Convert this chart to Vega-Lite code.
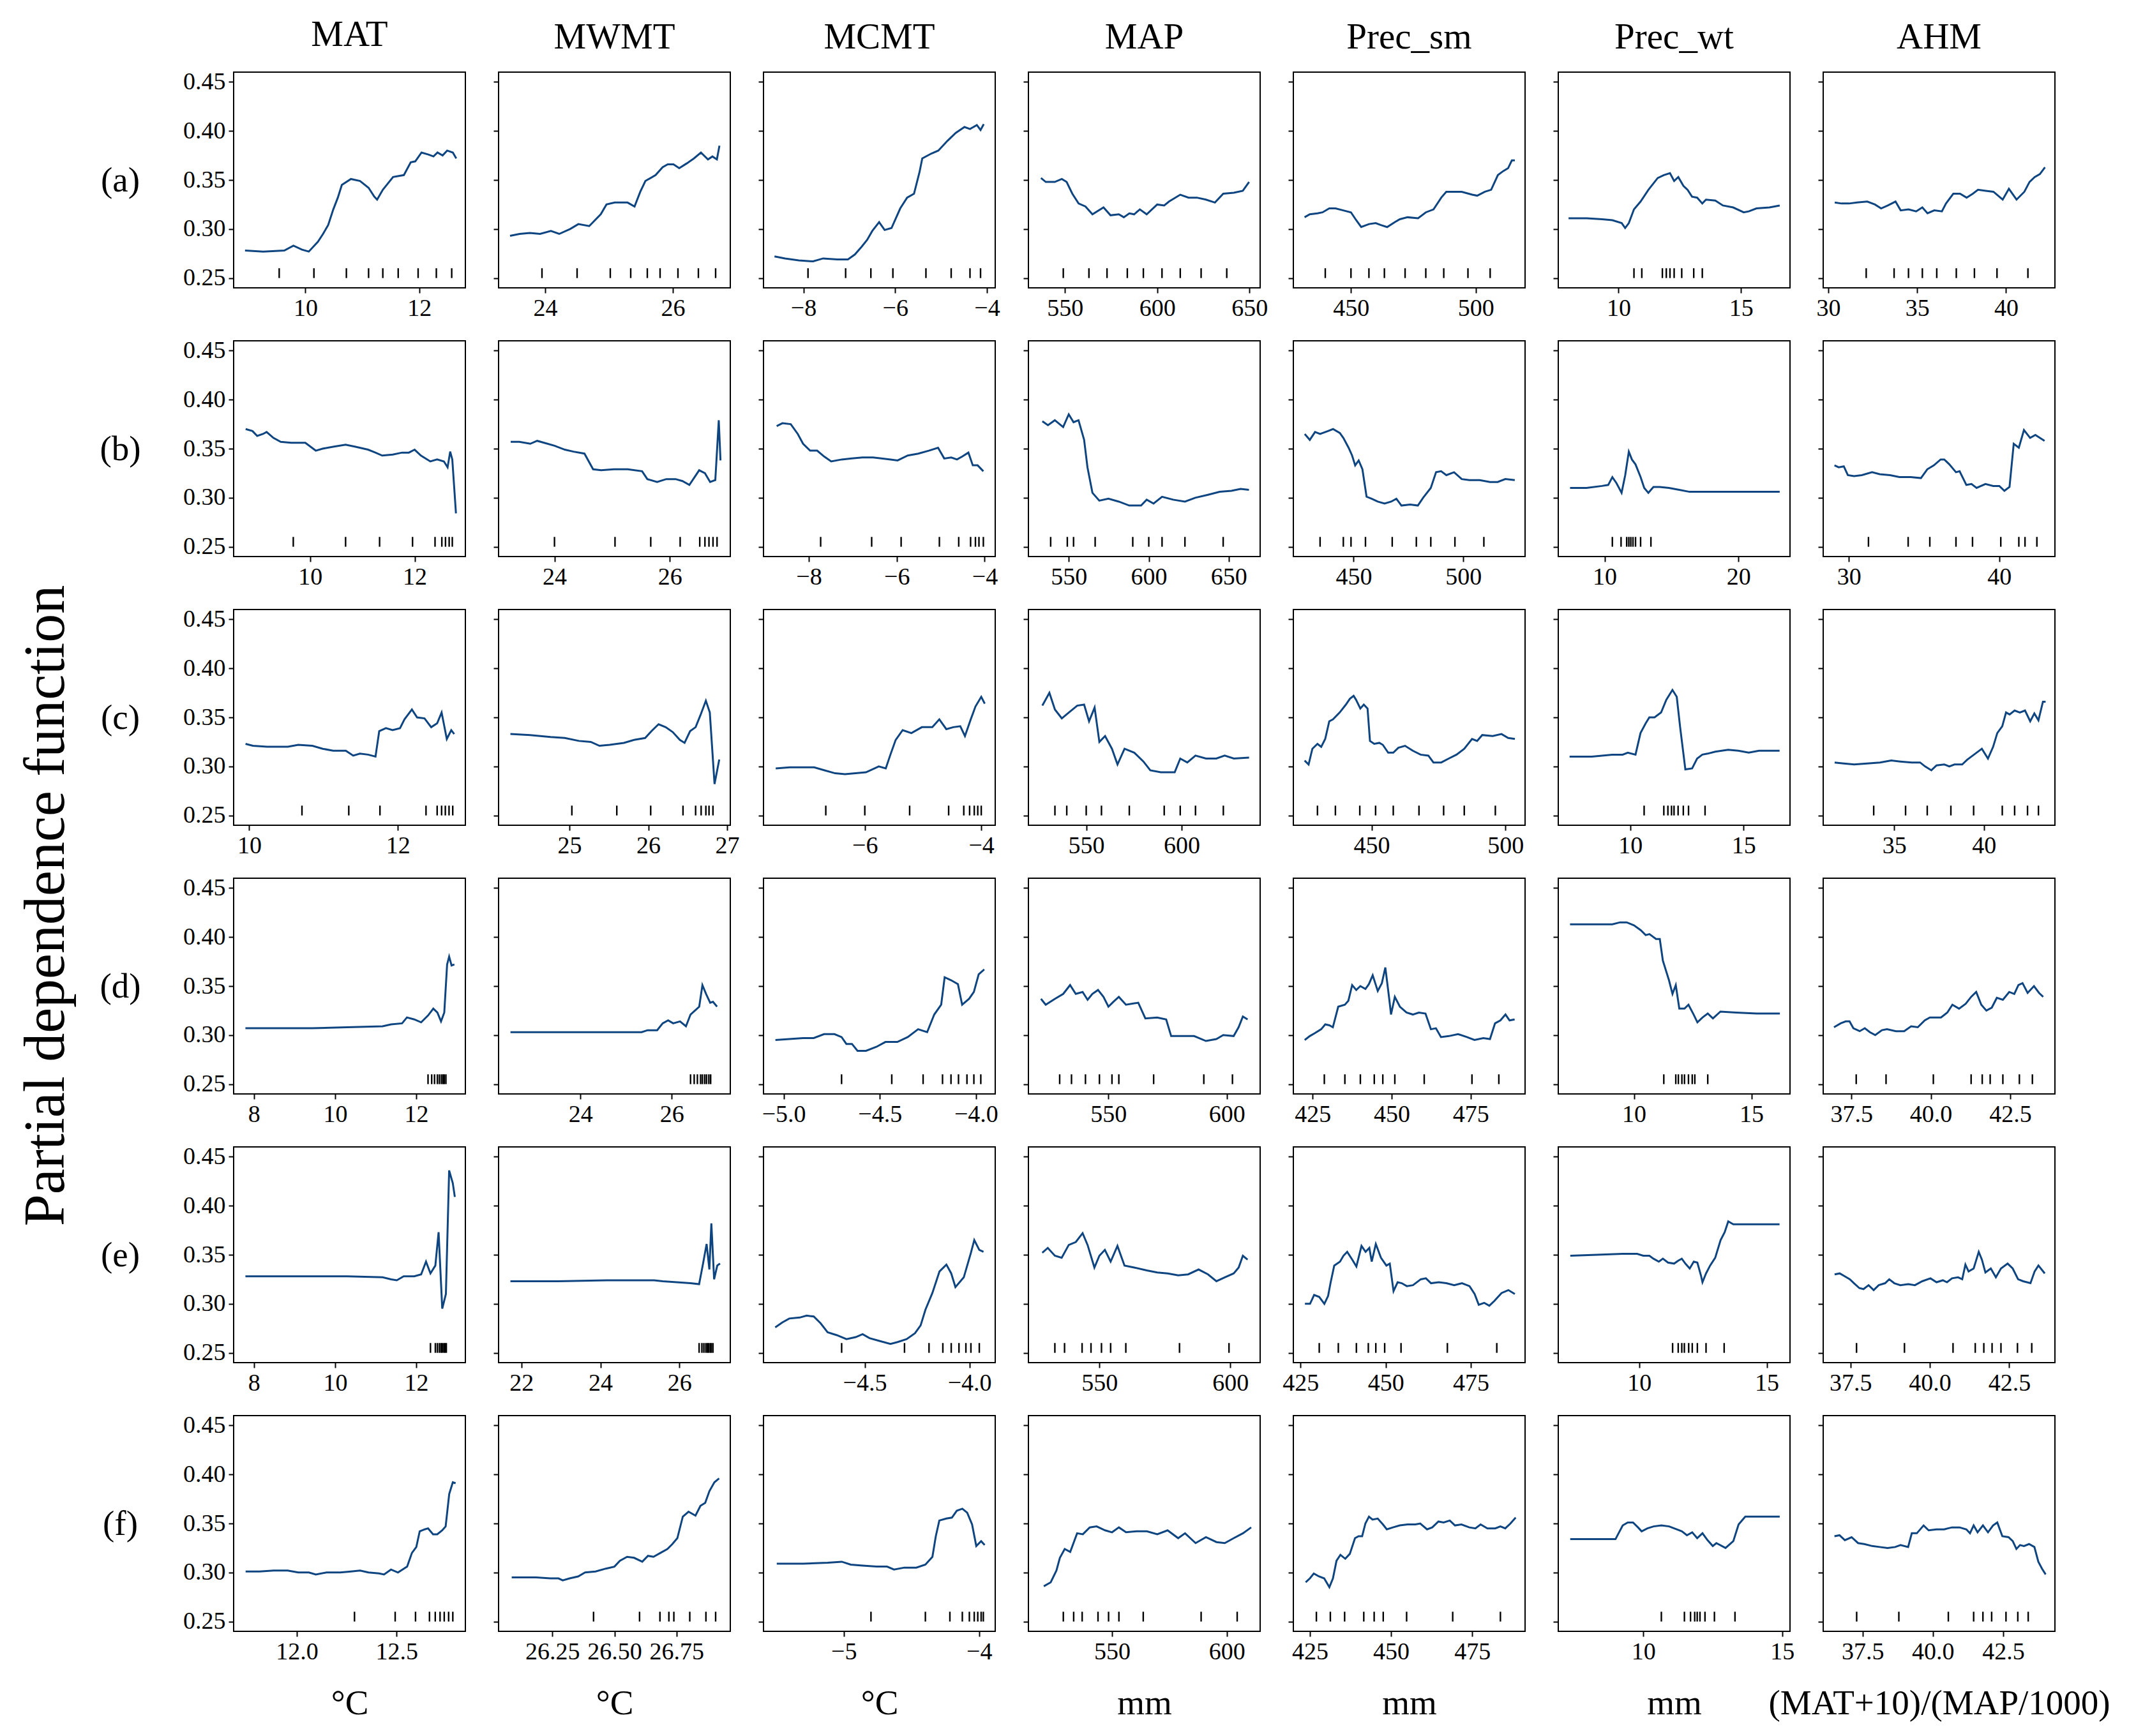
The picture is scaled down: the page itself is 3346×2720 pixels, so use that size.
{
"$schema":"https://vega.github.io/schema/vega-lite/v6.json",
"background":"white",
"padding":{"left":23,"top":25,"right":20,"bottom":10},
"config":{
"font":"Liberation Serif",
"view":{"stroke":"black","strokeWidth":2,"continuousWidth":363,"continuousHeight":338},
"axis":{"grid":false,"domain":false,"ticks":true,"tickColor":"black","tickSize":8,"tickWidth":2,"labelFont":"Liberation Serif","labelFontSize":38,"labelColor":"black","labelPadding":5,"labelOverlap":false,"titleFont":"Liberation Serif","titleColor":"black","titleFontWeight":"normal"},
"axisX":{"labelFlush":false,"titleX":181.5,"titleY":112,"titleBaseline":"middle","titleFontSize":55},
"axisY":{"titleX":-178,"titleY":169,"titleAngle":0,"titleAlign":"center","titleBaseline":"middle","titleFontSize":55},
"title":{"font":"Liberation Serif","fontSize":57,"fontWeight":"normal","color":"black","frame":"group","baseline":"alphabetic","offset":25,"anchor":"middle"},
"line":{"color":"#0e4580","strokeWidth":3},
"rule":{"color":"black","strokeWidth":2.4}
},
"datasets":{
"L":[
{"p":"A1","x":8.94,"y":0.278},{"p":"A1","x":9.26,"y":0.277},{"p":"A1","x":9.63,"y":0.278},{"p":"A1","x":9.79,"y":0.283},{"p":"A1","x":9.94,"y":0.279},{"p":"A1","x":10.06,"y":0.277},{"p":"A1","x":10.22,"y":0.287},{"p":"A1","x":10.31,"y":0.295},{"p":"A1","x":10.40,"y":0.304},{"p":"A1","x":10.49,"y":0.320},{"p":"A1","x":10.57,"y":0.332},{"p":"A1","x":10.64,"y":0.345},{"p":"A1","x":10.80,"y":0.351},{"p":"A1","x":10.96,"y":0.349},{"p":"A1","x":11.11,"y":0.342},{"p":"A1","x":11.21,"y":0.333},{"p":"A1","x":11.26,"y":0.330},{"p":"A1","x":11.36,"y":0.340},{"p":"A1","x":11.54,"y":0.353},{"p":"A1","x":11.73,"y":0.355},{"p":"A1","x":11.85,"y":0.368},{"p":"A1","x":11.93,"y":0.369},{"p":"A1","x":12.04,"y":0.378},{"p":"A1","x":12.16,"y":0.376},{"p":"A1","x":12.25,"y":0.374},{"p":"A1","x":12.32,"y":0.378},{"p":"A1","x":12.41,"y":0.375},{"p":"A1","x":12.49,"y":0.380},{"p":"A1","x":12.59,"y":0.378},{"p":"A1","x":12.65,"y":0.372},
{"p":"A2","x":23.45,"y":0.293},{"p":"A2","x":23.60,"y":0.295},{"p":"A2","x":23.76,"y":0.296},{"p":"A2","x":23.92,"y":0.295},{"p":"A2","x":24.09,"y":0.298},{"p":"A2","x":24.22,"y":0.295},{"p":"A2","x":24.39,"y":0.300},{"p":"A2","x":24.52,"y":0.305},{"p":"A2","x":24.69,"y":0.303},{"p":"A2","x":24.78,"y":0.309},{"p":"A2","x":24.87,"y":0.315},{"p":"A2","x":24.96,"y":0.325},{"p":"A2","x":25.09,"y":0.327},{"p":"A2","x":25.29,"y":0.327},{"p":"A2","x":25.40,"y":0.323},{"p":"A2","x":25.49,"y":0.338},{"p":"A2","x":25.57,"y":0.349},{"p":"A2","x":25.73,"y":0.355},{"p":"A2","x":25.84,"y":0.363},{"p":"A2","x":25.92,"y":0.366},{"p":"A2","x":26.01,"y":0.366},{"p":"A2","x":26.10,"y":0.362},{"p":"A2","x":26.22,"y":0.367},{"p":"A2","x":26.33,"y":0.372},{"p":"A2","x":26.44,"y":0.378},{"p":"A2","x":26.55,"y":0.371},{"p":"A2","x":26.62,"y":0.374},{"p":"A2","x":26.69,"y":0.371},{"p":"A2","x":26.73,"y":0.385},
{"p":"A3","x":-8.63,"y":0.272},{"p":"A3","x":-8.40,"y":0.270},{"p":"A3","x":-8.10,"y":0.268},{"p":"A3","x":-7.79,"y":0.267},{"p":"A3","x":-7.57,"y":0.270},{"p":"A3","x":-7.26,"y":0.269},{"p":"A3","x":-7.03,"y":0.269},{"p":"A3","x":-6.88,"y":0.274},{"p":"A3","x":-6.73,"y":0.282},{"p":"A3","x":-6.61,"y":0.289},{"p":"A3","x":-6.50,"y":0.298},{"p":"A3","x":-6.35,"y":0.307},{"p":"A3","x":-6.23,"y":0.299},{"p":"A3","x":-6.08,"y":0.301},{"p":"A3","x":-5.89,"y":0.321},{"p":"A3","x":-5.74,"y":0.332},{"p":"A3","x":-5.59,"y":0.336},{"p":"A3","x":-5.47,"y":0.358},{"p":"A3","x":-5.41,"y":0.372},{"p":"A3","x":-5.21,"y":0.377},{"p":"A3","x":-5.06,"y":0.380},{"p":"A3","x":-4.86,"y":0.390},{"p":"A3","x":-4.68,"y":0.398},{"p":"A3","x":-4.49,"y":0.404},{"p":"A3","x":-4.37,"y":0.402},{"p":"A3","x":-4.22,"y":0.406},{"p":"A3","x":-4.14,"y":0.401},{"p":"A3","x":-4.07,"y":0.407},
{"p":"A4","x":537.0,"y":0.352},{"p":"A4","x":539.6,"y":0.348},{"p":"A4","x":544.5,"y":0.348},{"p":"A4","x":548.3,"y":0.351},{"p":"A4","x":550.9,"y":0.348},{"p":"A4","x":554.0,"y":0.336},{"p":"A4","x":557.4,"y":0.326},{"p":"A4","x":561.1,"y":0.323},{"p":"A4","x":564.9,"y":0.315},{"p":"A4","x":570.9,"y":0.322},{"p":"A4","x":574.7,"y":0.314},{"p":"A4","x":579.2,"y":0.315},{"p":"A4","x":581.9,"y":0.312},{"p":"A4","x":584.9,"y":0.316},{"p":"A4","x":587.5,"y":0.315},{"p":"A4","x":590.6,"y":0.320},{"p":"A4","x":594.3,"y":0.315},{"p":"A4","x":600.0,"y":0.325},{"p":"A4","x":603.8,"y":0.324},{"p":"A4","x":606.4,"y":0.328},{"p":"A4","x":612.5,"y":0.335},{"p":"A4","x":617.0,"y":0.332},{"p":"A4","x":621.5,"y":0.332},{"p":"A4","x":626.4,"y":0.330},{"p":"A4","x":631.3,"y":0.327},{"p":"A4","x":635.8,"y":0.336},{"p":"A4","x":641.5,"y":0.337},{"p":"A4","x":646.4,"y":0.339},{"p":"A4","x":649.8,"y":0.348},
{"p":"A5","x":431.4,"y":0.312},{"p":"A5","x":433.5,"y":0.315},{"p":"A5","x":436.6,"y":0.316},{"p":"A5","x":438.6,"y":0.317},{"p":"A5","x":441.3,"y":0.321},{"p":"A5","x":443.8,"y":0.321},{"p":"A5","x":446.9,"y":0.319},{"p":"A5","x":450.0,"y":0.317},{"p":"A5","x":452.1,"y":0.309},{"p":"A5","x":454.1,"y":0.302},{"p":"A5","x":457.2,"y":0.305},{"p":"A5","x":459.9,"y":0.306},{"p":"A5","x":462.0,"y":0.304},{"p":"A5","x":464.5,"y":0.302},{"p":"A5","x":467.6,"y":0.307},{"p":"A5","x":469.6,"y":0.310},{"p":"A5","x":472.7,"y":0.312},{"p":"A5","x":476.9,"y":0.311},{"p":"A5","x":480.0,"y":0.317},{"p":"A5","x":483.1,"y":0.320},{"p":"A5","x":486.2,"y":0.332},{"p":"A5","x":488.2,"y":0.338},{"p":"A5","x":491.3,"y":0.338},{"p":"A5","x":494.4,"y":0.338},{"p":"A5","x":498.6,"y":0.335},{"p":"A5","x":500.6,"y":0.334},{"p":"A5","x":503.7,"y":0.338},{"p":"A5","x":506.2,"y":0.340},{"p":"A5","x":508.9,"y":0.355},{"p":"A5","x":511.0,"y":0.359},{"p":"A5","x":513.0,"y":0.362},{"p":"A5","x":514.5,"y":0.370},{"p":"A5","x":515.7,"y":0.370},
{"p":"A6","x":7.96,"y":0.311},{"p":"A6","x":8.70,"y":0.311},{"p":"A6","x":9.33,"y":0.310},{"p":"A6","x":9.75,"y":0.309},{"p":"A6","x":10.13,"y":0.306},{"p":"A6","x":10.27,"y":0.301},{"p":"A6","x":10.42,"y":0.306},{"p":"A6","x":10.63,"y":0.320},{"p":"A6","x":10.90,"y":0.328},{"p":"A6","x":11.22,"y":0.340},{"p":"A6","x":11.60,"y":0.352},{"p":"A6","x":11.85,"y":0.355},{"p":"A6","x":12.10,"y":0.357},{"p":"A6","x":12.27,"y":0.349},{"p":"A6","x":12.44,"y":0.353},{"p":"A6","x":12.65,"y":0.344},{"p":"A6","x":12.82,"y":0.340},{"p":"A6","x":13.00,"y":0.333},{"p":"A6","x":13.21,"y":0.332},{"p":"A6","x":13.42,"y":0.326},{"p":"A6","x":13.57,"y":0.330},{"p":"A6","x":13.95,"y":0.329},{"p":"A6","x":14.26,"y":0.324},{"p":"A6","x":14.68,"y":0.322},{"p":"A6","x":15.11,"y":0.317},{"p":"A6","x":15.32,"y":0.318},{"p":"A6","x":15.63,"y":0.321},{"p":"A6","x":16.16,"y":0.322},{"p":"A6","x":16.58,"y":0.324},
{"p":"A7","x":30.36,"y":0.327},{"p":"A7","x":30.74,"y":0.326},{"p":"A7","x":31.17,"y":0.326},{"p":"A7","x":31.61,"y":0.327},{"p":"A7","x":32.19,"y":0.328},{"p":"A7","x":32.62,"y":0.325},{"p":"A7","x":32.97,"y":0.321},{"p":"A7","x":33.35,"y":0.324},{"p":"A7","x":33.78,"y":0.328},{"p":"A7","x":34.07,"y":0.319},{"p":"A7","x":34.51,"y":0.320},{"p":"A7","x":34.94,"y":0.318},{"p":"A7","x":35.29,"y":0.322},{"p":"A7","x":35.58,"y":0.316},{"p":"A7","x":35.96,"y":0.319},{"p":"A7","x":36.39,"y":0.318},{"p":"A7","x":36.62,"y":0.326},{"p":"A7","x":37.03,"y":0.336},{"p":"A7","x":37.41,"y":0.336},{"p":"A7","x":37.78,"y":0.332},{"p":"A7","x":38.13,"y":0.336},{"p":"A7","x":38.42,"y":0.340},{"p":"A7","x":38.86,"y":0.339},{"p":"A7","x":39.29,"y":0.338},{"p":"A7","x":39.81,"y":0.330},{"p":"A7","x":40.16,"y":0.341},{"p":"A7","x":40.59,"y":0.330},{"p":"A7","x":41.03,"y":0.338},{"p":"A7","x":41.32,"y":0.348},{"p":"A7","x":41.61,"y":0.353},{"p":"A7","x":41.90,"y":0.356},{"p":"A7","x":42.19,"y":0.363},
{"p":"B1","x":8.77,"y":0.370},{"p":"B1","x":8.90,"y":0.368},{"p":"B1","x":8.99,"y":0.363},{"p":"B1","x":9.10,"y":0.365},{"p":"B1","x":9.17,"y":0.367},{"p":"B1","x":9.30,"y":0.361},{"p":"B1","x":9.44,"y":0.357},{"p":"B1","x":9.64,"y":0.356},{"p":"B1","x":9.91,"y":0.356},{"p":"B1","x":10.11,"y":0.348},{"p":"B1","x":10.24,"y":0.350},{"p":"B1","x":10.44,"y":0.352},{"p":"B1","x":10.68,"y":0.354},{"p":"B1","x":10.87,"y":0.352},{"p":"B1","x":11.11,"y":0.349},{"p":"B1","x":11.25,"y":0.346},{"p":"B1","x":11.38,"y":0.343},{"p":"B1","x":11.58,"y":0.344},{"p":"B1","x":11.76,"y":0.346},{"p":"B1","x":11.89,"y":0.346},{"p":"B1","x":12.00,"y":0.349},{"p":"B1","x":12.12,"y":0.343},{"p":"B1","x":12.30,"y":0.337},{"p":"B1","x":12.43,"y":0.339},{"p":"B1","x":12.56,"y":0.337},{"p":"B1","x":12.63,"y":0.331},{"p":"B1","x":12.68,"y":0.347},{"p":"B1","x":12.72,"y":0.339},{"p":"B1","x":12.79,"y":0.284},
{"p":"B2","x":23.24,"y":0.357},{"p":"B2","x":23.39,"y":0.357},{"p":"B2","x":23.58,"y":0.355},{"p":"B2","x":23.70,"y":0.358},{"p":"B2","x":23.82,"y":0.356},{"p":"B2","x":24.00,"y":0.353},{"p":"B2","x":24.18,"y":0.349},{"p":"B2","x":24.33,"y":0.347},{"p":"B2","x":24.52,"y":0.345},{"p":"B2","x":24.67,"y":0.329},{"p":"B2","x":24.81,"y":0.328},{"p":"B2","x":25.03,"y":0.329},{"p":"B2","x":25.27,"y":0.329},{"p":"B2","x":25.52,"y":0.327},{"p":"B2","x":25.61,"y":0.319},{"p":"B2","x":25.78,"y":0.316},{"p":"B2","x":25.94,"y":0.319},{"p":"B2","x":26.10,"y":0.319},{"p":"B2","x":26.22,"y":0.317},{"p":"B2","x":26.34,"y":0.313},{"p":"B2","x":26.51,"y":0.328},{"p":"B2","x":26.61,"y":0.325},{"p":"B2","x":26.70,"y":0.316},{"p":"B2","x":26.79,"y":0.318},{"p":"B2","x":26.85,"y":0.379},{"p":"B2","x":26.88,"y":0.338},
{"p":"B3","x":-8.73,"y":0.373},{"p":"B3","x":-8.60,"y":0.376},{"p":"B3","x":-8.41,"y":0.375},{"p":"B3","x":-8.25,"y":0.365},{"p":"B3","x":-8.13,"y":0.355},{"p":"B3","x":-7.97,"y":0.348},{"p":"B3","x":-7.81,"y":0.348},{"p":"B3","x":-7.65,"y":0.342},{"p":"B3","x":-7.49,"y":0.337},{"p":"B3","x":-7.25,"y":0.339},{"p":"B3","x":-7.02,"y":0.340},{"p":"B3","x":-6.78,"y":0.341},{"p":"B3","x":-6.54,"y":0.341},{"p":"B3","x":-6.35,"y":0.340},{"p":"B3","x":-6.14,"y":0.339},{"p":"B3","x":-5.98,"y":0.338},{"p":"B3","x":-5.75,"y":0.343},{"p":"B3","x":-5.51,"y":0.345},{"p":"B3","x":-5.27,"y":0.348},{"p":"B3","x":-5.06,"y":0.351},{"p":"B3","x":-4.92,"y":0.340},{"p":"B3","x":-4.76,"y":0.341},{"p":"B3","x":-4.63,"y":0.339},{"p":"B3","x":-4.51,"y":0.342},{"p":"B3","x":-4.37,"y":0.346},{"p":"B3","x":-4.27,"y":0.333},{"p":"B3","x":-4.16,"y":0.333},{"p":"B3","x":-4.03,"y":0.327},
{"p":"B4","x":533.5,"y":0.378},{"p":"B4","x":537.0,"y":0.374},{"p":"B4","x":541.3,"y":0.379},{"p":"B4","x":546.5,"y":0.372},{"p":"B4","x":550.0,"y":0.385},{"p":"B4","x":553.0,"y":0.377},{"p":"B4","x":556.1,"y":0.379},{"p":"B4","x":559.6,"y":0.359},{"p":"B4","x":561.7,"y":0.331},{"p":"B4","x":564.8,"y":0.305},{"p":"B4","x":569.1,"y":0.297},{"p":"B4","x":574.8,"y":0.299},{"p":"B4","x":581.3,"y":0.296},{"p":"B4","x":587.8,"y":0.292},{"p":"B4","x":595.2,"y":0.292},{"p":"B4","x":598.7,"y":0.298},{"p":"B4","x":603.0,"y":0.294},{"p":"B4","x":608.3,"y":0.301},{"p":"B4","x":615.2,"y":0.298},{"p":"B4","x":622.6,"y":0.296},{"p":"B4","x":629.1,"y":0.300},{"p":"B4","x":637.0,"y":0.303},{"p":"B4","x":644.3,"y":0.306},{"p":"B4","x":651.7,"y":0.307},{"p":"B4","x":657.4,"y":0.309},{"p":"B4","x":662.6,"y":0.308},
{"p":"B5","x":427.7,"y":0.365},{"p":"B5","x":430.0,"y":0.359},{"p":"B5","x":432.4,"y":0.367},{"p":"B5","x":434.7,"y":0.365},{"p":"B5","x":438.3,"y":0.368},{"p":"B5","x":440.6,"y":0.370},{"p":"B5","x":443.7,"y":0.366},{"p":"B5","x":445.3,"y":0.361},{"p":"B5","x":447.7,"y":0.351},{"p":"B5","x":449.3,"y":0.343},{"p":"B5","x":450.7,"y":0.333},{"p":"B5","x":452.3,"y":0.338},{"p":"B5","x":454.0,"y":0.329},{"p":"B5","x":455.9,"y":0.301},{"p":"B5","x":458.2,"y":0.299},{"p":"B5","x":461.0,"y":0.296},{"p":"B5","x":464.1,"y":0.294},{"p":"B5","x":467.1,"y":0.296},{"p":"B5","x":469.5,"y":0.299},{"p":"B5","x":471.8,"y":0.292},{"p":"B5","x":475.8,"y":0.293},{"p":"B5","x":479.3,"y":0.292},{"p":"B5","x":481.7,"y":0.300},{"p":"B5","x":485.2,"y":0.310},{"p":"B5","x":487.6,"y":0.326},{"p":"B5","x":489.9,"y":0.327},{"p":"B5","x":492.3,"y":0.323},{"p":"B5","x":495.8,"y":0.326},{"p":"B5","x":499.3,"y":0.319},{"p":"B5","x":502.8,"y":0.318},{"p":"B5","x":507.5,"y":0.318},{"p":"B5","x":512.2,"y":0.316},{"p":"B5","x":515.7,"y":0.316},{"p":"B5","x":519.2,"y":0.319},{"p":"B5","x":523.5,"y":0.318},
{"p":"B6","x":7.42,"y":0.310},{"p":"B6","x":8.65,"y":0.310},{"p":"B6","x":9.81,"y":0.312},{"p":"B6","x":10.27,"y":0.313},{"p":"B6","x":10.58,"y":0.321},{"p":"B6","x":10.88,"y":0.315},{"p":"B6","x":11.27,"y":0.305},{"p":"B6","x":11.54,"y":0.323},{"p":"B6","x":11.81,"y":0.347},{"p":"B6","x":12.04,"y":0.339},{"p":"B6","x":12.31,"y":0.334},{"p":"B6","x":12.69,"y":0.321},{"p":"B6","x":12.96,"y":0.310},{"p":"B6","x":13.27,"y":0.305},{"p":"B6","x":13.65,"y":0.311},{"p":"B6","x":14.12,"y":0.311},{"p":"B6","x":14.81,"y":0.310},{"p":"B6","x":15.58,"y":0.308},{"p":"B6","x":16.35,"y":0.306},{"p":"B6","x":18.27,"y":0.306},{"p":"B6","x":20.96,"y":0.306},{"p":"B6","x":23.08,"y":0.306},
{"p":"B7","x":29.04,"y":0.333},{"p":"B7","x":29.32,"y":0.331},{"p":"B7","x":29.66,"y":0.332},{"p":"B7","x":29.93,"y":0.323},{"p":"B7","x":30.34,"y":0.322},{"p":"B7","x":30.86,"y":0.323},{"p":"B7","x":31.54,"y":0.326},{"p":"B7","x":32.05,"y":0.324},{"p":"B7","x":32.74,"y":0.323},{"p":"B7","x":33.36,"y":0.321},{"p":"B7","x":34.11,"y":0.321},{"p":"B7","x":34.79,"y":0.320},{"p":"B7","x":35.21,"y":0.329},{"p":"B7","x":35.65,"y":0.333},{"p":"B7","x":36.10,"y":0.339},{"p":"B7","x":36.34,"y":0.339},{"p":"B7","x":36.68,"y":0.334},{"p":"B7","x":37.12,"y":0.326},{"p":"B7","x":37.36,"y":0.327},{"p":"B7","x":37.81,"y":0.313},{"p":"B7","x":38.15,"y":0.314},{"p":"B7","x":38.49,"y":0.310},{"p":"B7","x":39.08,"y":0.314},{"p":"B7","x":39.59,"y":0.312},{"p":"B7","x":40.00,"y":0.312},{"p":"B7","x":40.34,"y":0.307},{"p":"B7","x":40.68,"y":0.311},{"p":"B7","x":40.96,"y":0.355},{"p":"B7","x":41.30,"y":0.351},{"p":"B7","x":41.64,"y":0.369},{"p":"B7","x":42.05,"y":0.361},{"p":"B7","x":42.40,"y":0.364},{"p":"B7","x":43.01,"y":0.358},
{"p":"C1","x":9.95,"y":0.323},{"p":"C1","x":10.05,"y":0.321},{"p":"C1","x":10.24,"y":0.320},{"p":"C1","x":10.42,"y":0.320},{"p":"C1","x":10.52,"y":0.320},{"p":"C1","x":10.66,"y":0.322},{"p":"C1","x":10.85,"y":0.321},{"p":"C1","x":10.99,"y":0.318},{"p":"C1","x":11.13,"y":0.316},{"p":"C1","x":11.30,"y":0.316},{"p":"C1","x":11.40,"y":0.311},{"p":"C1","x":11.49,"y":0.313},{"p":"C1","x":11.60,"y":0.312},{"p":"C1","x":11.70,"y":0.310},{"p":"C1","x":11.75,"y":0.336},{"p":"C1","x":11.84,"y":0.339},{"p":"C1","x":11.93,"y":0.337},{"p":"C1","x":12.03,"y":0.339},{"p":"C1","x":12.09,"y":0.348},{"p":"C1","x":12.19,"y":0.358},{"p":"C1","x":12.26,"y":0.350},{"p":"C1","x":12.36,"y":0.349},{"p":"C1","x":12.45,"y":0.340},{"p":"C1","x":12.53,"y":0.344},{"p":"C1","x":12.59,"y":0.355},{"p":"C1","x":12.66,"y":0.328},{"p":"C1","x":12.72,"y":0.337},{"p":"C1","x":12.76,"y":0.333},
{"p":"C2","x":24.25,"y":0.333},{"p":"C2","x":24.50,"y":0.332},{"p":"C2","x":24.76,"y":0.330},{"p":"C2","x":24.94,"y":0.329},{"p":"C2","x":25.12,"y":0.326},{"p":"C2","x":25.27,"y":0.325},{"p":"C2","x":25.38,"y":0.321},{"p":"C2","x":25.51,"y":0.322},{"p":"C2","x":25.69,"y":0.324},{"p":"C2","x":25.82,"y":0.327},{"p":"C2","x":25.96,"y":0.329},{"p":"C2","x":26.04,"y":0.336},{"p":"C2","x":26.13,"y":0.343},{"p":"C2","x":26.22,"y":0.340},{"p":"C2","x":26.31,"y":0.335},{"p":"C2","x":26.40,"y":0.327},{"p":"C2","x":26.46,"y":0.324},{"p":"C2","x":26.53,"y":0.336},{"p":"C2","x":26.60,"y":0.340},{"p":"C2","x":26.66,"y":0.352},{"p":"C2","x":26.73,"y":0.367},{"p":"C2","x":26.78,"y":0.355},{"p":"C2","x":26.84,"y":0.282},{"p":"C2","x":26.90,"y":0.307},
{"p":"C3","x":-7.53,"y":0.298},{"p":"C3","x":-7.29,"y":0.299},{"p":"C3","x":-6.99,"y":0.299},{"p":"C3","x":-6.87,"y":0.299},{"p":"C3","x":-6.69,"y":0.296},{"p":"C3","x":-6.51,"y":0.293},{"p":"C3","x":-6.34,"y":0.292},{"p":"C3","x":-6.16,"y":0.293},{"p":"C3","x":-5.98,"y":0.294},{"p":"C3","x":-5.76,"y":0.300},{"p":"C3","x":-5.64,"y":0.298},{"p":"C3","x":-5.56,"y":0.312},{"p":"C3","x":-5.47,"y":0.327},{"p":"C3","x":-5.35,"y":0.337},{"p":"C3","x":-5.20,"y":0.334},{"p":"C3","x":-5.02,"y":0.340},{"p":"C3","x":-4.84,"y":0.340},{"p":"C3","x":-4.72,"y":0.348},{"p":"C3","x":-4.60,"y":0.338},{"p":"C3","x":-4.48,"y":0.340},{"p":"C3","x":-4.36,"y":0.341},{"p":"C3","x":-4.28,"y":0.331},{"p":"C3","x":-4.18,"y":0.348},{"p":"C3","x":-4.10,"y":0.361},{"p":"C3","x":-4.00,"y":0.371},{"p":"C3","x":-3.94,"y":0.364},
{"p":"C4","x":527.0,"y":0.362},{"p":"C4","x":530.7,"y":0.375},{"p":"C4","x":533.6,"y":0.358},{"p":"C4","x":537.2,"y":0.349},{"p":"C4","x":540.9,"y":0.355},{"p":"C4","x":545.3,"y":0.362},{"p":"C4","x":548.9,"y":0.363},{"p":"C4","x":551.5,"y":0.346},{"p":"C4","x":554.4,"y":0.360},{"p":"C4","x":556.9,"y":0.325},{"p":"C4","x":559.9,"y":0.331},{"p":"C4","x":563.5,"y":0.318},{"p":"C4","x":566.4,"y":0.302},{"p":"C4","x":570.1,"y":0.318},{"p":"C4","x":575.2,"y":0.314},{"p":"C4","x":580.0,"y":0.305},{"p":"C4","x":583.6,"y":0.296},{"p":"C4","x":589.1,"y":0.294},{"p":"C4","x":596.4,"y":0.294},{"p":"C4","x":599.3,"y":0.308},{"p":"C4","x":603.0,"y":0.304},{"p":"C4","x":607.3,"y":0.311},{"p":"C4","x":612.8,"y":0.308},{"p":"C4","x":618.2,"y":0.308},{"p":"C4","x":622.6,"y":0.311},{"p":"C4","x":627.4,"y":0.308},{"p":"C4","x":635.4,"y":0.309},
{"p":"C5","x":425.0,"y":0.306},{"p":"C5","x":426.5,"y":0.302},{"p":"C5","x":427.9,"y":0.318},{"p":"C5","x":429.8,"y":0.323},{"p":"C5","x":431.2,"y":0.320},{"p":"C5","x":432.7,"y":0.328},{"p":"C5","x":434.2,"y":0.346},{"p":"C5","x":435.6,"y":0.348},{"p":"C5","x":438.1,"y":0.355},{"p":"C5","x":440.4,"y":0.363},{"p":"C5","x":441.9,"y":0.369},{"p":"C5","x":443.3,"y":0.372},{"p":"C5","x":444.2,"y":0.368},{"p":"C5","x":445.8,"y":0.359},{"p":"C5","x":447.1,"y":0.363},{"p":"C5","x":448.5,"y":0.359},{"p":"C5","x":449.4,"y":0.326},{"p":"C5","x":451.0,"y":0.323},{"p":"C5","x":452.9,"y":0.324},{"p":"C5","x":454.2,"y":0.322},{"p":"C5","x":456.2,"y":0.314},{"p":"C5","x":458.1,"y":0.314},{"p":"C5","x":460.0,"y":0.319},{"p":"C5","x":462.5,"y":0.321},{"p":"C5","x":465.4,"y":0.316},{"p":"C5","x":468.3,"y":0.312},{"p":"C5","x":471.2,"y":0.311},{"p":"C5","x":473.1,"y":0.304},{"p":"C5","x":476.0,"y":0.304},{"p":"C5","x":478.8,"y":0.308},{"p":"C5","x":481.7,"y":0.312},{"p":"C5","x":484.6,"y":0.318},{"p":"C5","x":487.5,"y":0.328},{"p":"C5","x":489.4,"y":0.326},{"p":"C5","x":491.3,"y":0.332},{"p":"C5","x":495.2,"y":0.331},{"p":"C5","x":498.5,"y":0.333},{"p":"C5","x":501.0,"y":0.329},{"p":"C5","x":503.5,"y":0.328},
{"p":"C6","x":7.32,"y":0.310},{"p":"C6","x":8.30,"y":0.310},{"p":"C6","x":9.20,"y":0.312},{"p":"C6","x":9.66,"y":0.312},{"p":"C6","x":9.89,"y":0.314},{"p":"C6","x":10.23,"y":0.312},{"p":"C6","x":10.45,"y":0.334},{"p":"C6","x":10.68,"y":0.344},{"p":"C6","x":10.84,"y":0.350},{"p":"C6","x":11.07,"y":0.350},{"p":"C6","x":11.36,"y":0.355},{"p":"C6","x":11.59,"y":0.368},{"p":"C6","x":11.86,"y":0.378},{"p":"C6","x":12.05,"y":0.371},{"p":"C6","x":12.20,"y":0.340},{"p":"C6","x":12.43,"y":0.297},{"p":"C6","x":12.73,"y":0.298},{"p":"C6","x":12.95,"y":0.308},{"p":"C6","x":13.18,"y":0.312},{"p":"C6","x":13.41,"y":0.313},{"p":"C6","x":13.75,"y":0.315},{"p":"C6","x":14.32,"y":0.317},{"p":"C6","x":14.77,"y":0.316},{"p":"C6","x":15.23,"y":0.314},{"p":"C6","x":15.68,"y":0.316},{"p":"C6","x":16.59,"y":0.316},
{"p":"C7","x":31.67,"y":0.304},{"p":"C7","x":32.18,"y":0.303},{"p":"C7","x":32.76,"y":0.302},{"p":"C7","x":33.48,"y":0.303},{"p":"C7","x":34.20,"y":0.304},{"p":"C7","x":34.83,"y":0.306},{"p":"C7","x":35.34,"y":0.305},{"p":"C7","x":35.98,"y":0.304},{"p":"C7","x":36.44,"y":0.304},{"p":"C7","x":36.72,"y":0.300},{"p":"C7","x":37.07,"y":0.296},{"p":"C7","x":37.36,"y":0.301},{"p":"C7","x":37.79,"y":0.302},{"p":"C7","x":38.07,"y":0.300},{"p":"C7","x":38.36,"y":0.302},{"p":"C7","x":38.79,"y":0.302},{"p":"C7","x":39.08,"y":0.307},{"p":"C7","x":39.45,"y":0.312},{"p":"C7","x":39.89,"y":0.318},{"p":"C7","x":40.23,"y":0.308},{"p":"C7","x":40.52,"y":0.320},{"p":"C7","x":40.75,"y":0.334},{"p":"C7","x":41.03,"y":0.341},{"p":"C7","x":41.24,"y":0.355},{"p":"C7","x":41.44,"y":0.353},{"p":"C7","x":41.72,"y":0.357},{"p":"C7","x":42.01,"y":0.355},{"p":"C7","x":42.30,"y":0.357},{"p":"C7","x":42.59,"y":0.346},{"p":"C7","x":42.82,"y":0.354},{"p":"C7","x":43.05,"y":0.347},{"p":"C7","x":43.30,"y":0.366},{"p":"C7","x":43.45,"y":0.366},
{"p":"D1","x":7.79,"y":0.307},{"p":"D1","x":8.57,"y":0.307},{"p":"D1","x":9.44,"y":0.307},{"p":"D1","x":10.30,"y":0.308},{"p":"D1","x":11.17,"y":0.309},{"p":"D1","x":11.38,"y":0.311},{"p":"D1","x":11.65,"y":0.312},{"p":"D1","x":11.77,"y":0.318},{"p":"D1","x":11.95,"y":0.316},{"p":"D1","x":12.12,"y":0.313},{"p":"D1","x":12.29,"y":0.320},{"p":"D1","x":12.42,"y":0.327},{"p":"D1","x":12.52,"y":0.323},{"p":"D1","x":12.61,"y":0.314},{"p":"D1","x":12.69,"y":0.323},{"p":"D1","x":12.76,"y":0.372},{"p":"D1","x":12.81,"y":0.380},{"p":"D1","x":12.87,"y":0.371},{"p":"D1","x":12.94,"y":0.372},
{"p":"D2","x":22.47,"y":0.303},{"p":"D2","x":23.51,"y":0.303},{"p":"D2","x":24.58,"y":0.303},{"p":"D2","x":25.34,"y":0.303},{"p":"D2","x":25.47,"y":0.305},{"p":"D2","x":25.68,"y":0.305},{"p":"D2","x":25.80,"y":0.312},{"p":"D2","x":25.92,"y":0.315},{"p":"D2","x":26.03,"y":0.312},{"p":"D2","x":26.18,"y":0.314},{"p":"D2","x":26.31,"y":0.309},{"p":"D2","x":26.41,"y":0.321},{"p":"D2","x":26.53,"y":0.326},{"p":"D2","x":26.60,"y":0.329},{"p":"D2","x":26.67,"y":0.351},{"p":"D2","x":26.75,"y":0.342},{"p":"D2","x":26.84,"y":0.333},{"p":"D2","x":26.90,"y":0.334},{"p":"D2","x":26.99,"y":0.329},
{"p":"D3","x":-5.043,"y":0.295},{"p":"D3","x":-4.971,"y":0.296},{"p":"D3","x":-4.899,"y":0.297},{"p":"D3","x":-4.844,"y":0.297},{"p":"D3","x":-4.790,"y":0.301},{"p":"D3","x":-4.736,"y":0.301},{"p":"D3","x":-4.699,"y":0.298},{"p":"D3","x":-4.674,"y":0.291},{"p":"D3","x":-4.645,"y":0.291},{"p":"D3","x":-4.616,"y":0.284},{"p":"D3","x":-4.572,"y":0.284},{"p":"D3","x":-4.518,"y":0.288},{"p":"D3","x":-4.471,"y":0.293},{"p":"D3","x":-4.409,"y":0.293},{"p":"D3","x":-4.355,"y":0.298},{"p":"D3","x":-4.301,"y":0.306},{"p":"D3","x":-4.254,"y":0.303},{"p":"D3","x":-4.217,"y":0.321},{"p":"D3","x":-4.181,"y":0.331},{"p":"D3","x":-4.163,"y":0.359},{"p":"D3","x":-4.130,"y":0.356},{"p":"D3","x":-4.094,"y":0.352},{"p":"D3","x":-4.072,"y":0.331},{"p":"D3","x":-4.036,"y":0.337},{"p":"D3","x":-4.011,"y":0.344},{"p":"D3","x":-3.986,"y":0.362},{"p":"D3","x":-3.957,"y":0.367},
{"p":"D4","x":521.5,"y":0.337},{"p":"D4","x":523.5,"y":0.331},{"p":"D4","x":527.4,"y":0.337},{"p":"D4","x":530.9,"y":0.342},{"p":"D4","x":533.8,"y":0.351},{"p":"D4","x":536.2,"y":0.342},{"p":"D4","x":539.1,"y":0.344},{"p":"D4","x":541.2,"y":0.336},{"p":"D4","x":543.2,"y":0.342},{"p":"D4","x":545.6,"y":0.346},{"p":"D4","x":547.9,"y":0.339},{"p":"D4","x":550.0,"y":0.329},{"p":"D4","x":552.1,"y":0.334},{"p":"D4","x":554.4,"y":0.339},{"p":"D4","x":557.4,"y":0.331},{"p":"D4","x":562.6,"y":0.333},{"p":"D4","x":565.6,"y":0.317},{"p":"D4","x":570.6,"y":0.318},{"p":"D4","x":574.4,"y":0.316},{"p":"D4","x":576.5,"y":0.299},{"p":"D4","x":580.9,"y":0.299},{"p":"D4","x":586.2,"y":0.299},{"p":"D4","x":591.2,"y":0.294},{"p":"D4","x":595.6,"y":0.296},{"p":"D4","x":598.5,"y":0.300},{"p":"D4","x":602.9,"y":0.299},{"p":"D4","x":605.0,"y":0.308},{"p":"D4","x":606.8,"y":0.319},{"p":"D4","x":608.8,"y":0.316},
{"p":"D5","x":422.5,"y":0.295},{"p":"D5","x":424.1,"y":0.299},{"p":"D5","x":425.7,"y":0.302},{"p":"D5","x":427.7,"y":0.306},{"p":"D5","x":429.0,"y":0.311},{"p":"D5","x":430.3,"y":0.310},{"p":"D5","x":431.4,"y":0.308},{"p":"D5","x":433.1,"y":0.329},{"p":"D5","x":435.2,"y":0.331},{"p":"D5","x":436.3,"y":0.335},{"p":"D5","x":437.5,"y":0.351},{"p":"D5","x":438.8,"y":0.346},{"p":"D5","x":440.1,"y":0.350},{"p":"D5","x":441.7,"y":0.347},{"p":"D5","x":442.8,"y":0.352},{"p":"D5","x":444.0,"y":0.361},{"p":"D5","x":445.6,"y":0.345},{"p":"D5","x":446.9,"y":0.353},{"p":"D5","x":448.0,"y":0.369},{"p":"D5","x":449.3,"y":0.335},{"p":"D5","x":449.8,"y":0.321},{"p":"D5","x":451.0,"y":0.339},{"p":"D5","x":452.6,"y":0.329},{"p":"D5","x":454.7,"y":0.323},{"p":"D5","x":456.7,"y":0.321},{"p":"D5","x":458.6,"y":0.323},{"p":"D5","x":460.7,"y":0.322},{"p":"D5","x":462.4,"y":0.306},{"p":"D5","x":464.0,"y":0.307},{"p":"D5","x":465.6,"y":0.298},{"p":"D5","x":468.1,"y":0.299},{"p":"D5","x":471.0,"y":0.301},{"p":"D5","x":473.8,"y":0.298},{"p":"D5","x":476.2,"y":0.295},{"p":"D5","x":479.0,"y":0.297},{"p":"D5","x":481.1,"y":0.296},{"p":"D5","x":482.7,"y":0.312},{"p":"D5","x":484.4,"y":0.315},{"p":"D5","x":486.0,"y":0.321},{"p":"D5","x":487.3,"y":0.315},{"p":"D5","x":488.9,"y":0.316},
{"p":"D6","x":7.28,"y":0.413},{"p":"D6","x":8.20,"y":0.413},{"p":"D6","x":9.08,"y":0.413},{"p":"D6","x":9.41,"y":0.415},{"p":"D6","x":9.69,"y":0.415},{"p":"D6","x":10.00,"y":0.412},{"p":"D6","x":10.29,"y":0.407},{"p":"D6","x":10.50,"y":0.402},{"p":"D6","x":10.66,"y":0.403},{"p":"D6","x":10.94,"y":0.398},{"p":"D6","x":11.10,"y":0.398},{"p":"D6","x":11.23,"y":0.376},{"p":"D6","x":11.49,"y":0.356},{"p":"D6","x":11.64,"y":0.342},{"p":"D6","x":11.78,"y":0.351},{"p":"D6","x":11.93,"y":0.327},{"p":"D6","x":12.15,"y":0.327},{"p":"D6","x":12.32,"y":0.331},{"p":"D6","x":12.54,"y":0.321},{"p":"D6","x":12.70,"y":0.313},{"p":"D6","x":12.92,"y":0.318},{"p":"D6","x":13.14,"y":0.322},{"p":"D6","x":13.36,"y":0.317},{"p":"D6","x":13.68,"y":0.324},{"p":"D6","x":14.34,"y":0.323},{"p":"D6","x":15.22,"y":0.322},{"p":"D6","x":16.21,"y":0.322},
{"p":"D7","x":36.95,"y":0.308},{"p":"D7","x":37.16,"y":0.312},{"p":"D7","x":37.32,"y":0.314},{"p":"D7","x":37.44,"y":0.314},{"p":"D7","x":37.56,"y":0.307},{"p":"D7","x":37.76,"y":0.304},{"p":"D7","x":37.92,"y":0.307},{"p":"D7","x":38.08,"y":0.303},{"p":"D7","x":38.25,"y":0.300},{"p":"D7","x":38.46,"y":0.305},{"p":"D7","x":38.62,"y":0.306},{"p":"D7","x":38.90,"y":0.304},{"p":"D7","x":39.16,"y":0.304},{"p":"D7","x":39.38,"y":0.309},{"p":"D7","x":39.59,"y":0.308},{"p":"D7","x":39.81,"y":0.315},{"p":"D7","x":39.97,"y":0.318},{"p":"D7","x":40.13,"y":0.318},{"p":"D7","x":40.32,"y":0.318},{"p":"D7","x":40.52,"y":0.323},{"p":"D7","x":40.68,"y":0.331},{"p":"D7","x":40.89,"y":0.327},{"p":"D7","x":41.10,"y":0.332},{"p":"D7","x":41.27,"y":0.339},{"p":"D7","x":41.43,"y":0.344},{"p":"D7","x":41.59,"y":0.331},{"p":"D7","x":41.75,"y":0.325},{"p":"D7","x":41.92,"y":0.328},{"p":"D7","x":42.08,"y":0.338},{"p":"D7","x":42.27,"y":0.336},{"p":"D7","x":42.47,"y":0.344},{"p":"D7","x":42.63,"y":0.342},{"p":"D7","x":42.76,"y":0.351},{"p":"D7","x":42.89,"y":0.353},{"p":"D7","x":43.05,"y":0.343},{"p":"D7","x":43.25,"y":0.350},{"p":"D7","x":43.41,"y":0.343},{"p":"D7","x":43.54,"y":0.339},
{"p":"E1","x":7.79,"y":0.328},{"p":"E1","x":8.57,"y":0.328},{"p":"E1","x":9.44,"y":0.328},{"p":"E1","x":10.30,"y":0.328},{"p":"E1","x":11.17,"y":0.327},{"p":"E1","x":11.38,"y":0.325},{"p":"E1","x":11.52,"y":0.324},{"p":"E1","x":11.69,"y":0.328},{"p":"E1","x":11.95,"y":0.328},{"p":"E1","x":12.12,"y":0.330},{"p":"E1","x":12.24,"y":0.343},{"p":"E1","x":12.35,"y":0.331},{"p":"E1","x":12.47,"y":0.339},{"p":"E1","x":12.55,"y":0.373},{"p":"E1","x":12.64,"y":0.295},{"p":"E1","x":12.73,"y":0.310},{"p":"E1","x":12.81,"y":0.436},{"p":"E1","x":12.90,"y":0.423},{"p":"E1","x":12.95,"y":0.409},
{"p":"E2","x":21.72,"y":0.323},{"p":"E2","x":22.92,"y":0.323},{"p":"E2","x":24.16,"y":0.324},{"p":"E2","x":25.36,"y":0.324},{"p":"E2","x":25.58,"y":0.323},{"p":"E2","x":25.93,"y":0.322},{"p":"E2","x":26.28,"y":0.321},{"p":"E2","x":26.50,"y":0.320},{"p":"E2","x":26.60,"y":0.341},{"p":"E2","x":26.69,"y":0.361},{"p":"E2","x":26.76,"y":0.335},{"p":"E2","x":26.81,"y":0.382},{"p":"E2","x":26.88,"y":0.325},{"p":"E2","x":26.96,"y":0.339},{"p":"E2","x":27.03,"y":0.341},
{"p":"E3","x":-4.927,"y":0.276},{"p":"E3","x":-4.893,"y":0.281},{"p":"E3","x":-4.860,"y":0.285},{"p":"E3","x":-4.810,"y":0.286},{"p":"E3","x":-4.777,"y":0.288},{"p":"E3","x":-4.743,"y":0.287},{"p":"E3","x":-4.710,"y":0.280},{"p":"E3","x":-4.677,"y":0.271},{"p":"E3","x":-4.633,"y":0.268},{"p":"E3","x":-4.587,"y":0.264},{"p":"E3","x":-4.543,"y":0.266},{"p":"E3","x":-4.510,"y":0.269},{"p":"E3","x":-4.477,"y":0.265},{"p":"E3","x":-4.427,"y":0.262},{"p":"E3","x":-4.377,"y":0.259},{"p":"E3","x":-4.343,"y":0.261},{"p":"E3","x":-4.300,"y":0.264},{"p":"E3","x":-4.260,"y":0.270},{"p":"E3","x":-4.233,"y":0.278},{"p":"E3","x":-4.210,"y":0.294},{"p":"E3","x":-4.177,"y":0.311},{"p":"E3","x":-4.143,"y":0.333},{"p":"E3","x":-4.110,"y":0.340},{"p":"E3","x":-4.087,"y":0.331},{"p":"E3","x":-4.067,"y":0.317},{"p":"E3","x":-4.027,"y":0.327},{"p":"E3","x":-3.993,"y":0.352},{"p":"E3","x":-3.977,"y":0.365},{"p":"E3","x":-3.953,"y":0.355},{"p":"E3","x":-3.933,"y":0.353},
{"p":"E4","x":528.2,"y":0.352},{"p":"E4","x":530.3,"y":0.357},{"p":"E4","x":533.0,"y":0.349},{"p":"E4","x":535.6,"y":0.347},{"p":"E4","x":538.3,"y":0.360},{"p":"E4","x":541.0,"y":0.363},{"p":"E4","x":543.6,"y":0.372},{"p":"E4","x":545.5,"y":0.360},{"p":"E4","x":548.1,"y":0.337},{"p":"E4","x":550.0,"y":0.349},{"p":"E4","x":552.1,"y":0.355},{"p":"E4","x":554.3,"y":0.343},{"p":"E4","x":556.9,"y":0.359},{"p":"E4","x":559.6,"y":0.339},{"p":"E4","x":563.3,"y":0.337},{"p":"E4","x":568.1,"y":0.334},{"p":"E4","x":572.1,"y":0.332},{"p":"E4","x":576.1,"y":0.331},{"p":"E4","x":580.1,"y":0.329},{"p":"E4","x":583.9,"y":0.330},{"p":"E4","x":587.9,"y":0.335},{"p":"E4","x":591.5,"y":0.330},{"p":"E4","x":594.7,"y":0.323},{"p":"E4","x":597.9,"y":0.327},{"p":"E4","x":601.3,"y":0.331},{"p":"E4","x":603.2,"y":0.337},{"p":"E4","x":604.8,"y":0.349},{"p":"E4","x":606.6,"y":0.345},
{"p":"E5","x":426.3,"y":0.300},{"p":"E5","x":427.8,"y":0.300},{"p":"E5","x":429.0,"y":0.309},{"p":"E5","x":430.5,"y":0.307},{"p":"E5","x":432.0,"y":0.300},{"p":"E5","x":433.1,"y":0.308},{"p":"E5","x":433.8,"y":0.321},{"p":"E5","x":434.9,"y":0.339},{"p":"E5","x":436.6,"y":0.343},{"p":"E5","x":437.6,"y":0.349},{"p":"E5","x":438.7,"y":0.353},{"p":"E5","x":440.2,"y":0.345},{"p":"E5","x":441.4,"y":0.338},{"p":"E5","x":442.9,"y":0.359},{"p":"E5","x":444.1,"y":0.353},{"p":"E5","x":445.2,"y":0.357},{"p":"E5","x":445.9,"y":0.343},{"p":"E5","x":447.1,"y":0.361},{"p":"E5","x":448.6,"y":0.347},{"p":"E5","x":450.2,"y":0.339},{"p":"E5","x":451.2,"y":0.341},{"p":"E5","x":452.3,"y":0.313},{"p":"E5","x":453.5,"y":0.322},{"p":"E5","x":454.7,"y":0.321},{"p":"E5","x":456.2,"y":0.318},{"p":"E5","x":458.0,"y":0.319},{"p":"E5","x":460.3,"y":0.325},{"p":"E5","x":461.8,"y":0.326},{"p":"E5","x":463.3,"y":0.321},{"p":"E5","x":465.6,"y":0.322},{"p":"E5","x":467.8,"y":0.321},{"p":"E5","x":470.1,"y":0.319},{"p":"E5","x":472.4,"y":0.321},{"p":"E5","x":474.6,"y":0.318},{"p":"E5","x":476.1,"y":0.310},{"p":"E5","x":477.3,"y":0.299},{"p":"E5","x":478.9,"y":0.301},{"p":"E5","x":480.4,"y":0.298},{"p":"E5","x":481.9,"y":0.303},{"p":"E5","x":484.0,"y":0.311},{"p":"E5","x":486.0,"y":0.314},{"p":"E5","x":487.9,"y":0.310},
{"p":"E6","x":7.30,"y":0.349},{"p":"E6","x":8.35,"y":0.350},{"p":"E6","x":9.35,"y":0.351},{"p":"E6","x":9.92,"y":0.351},{"p":"E6","x":10.16,"y":0.349},{"p":"E6","x":10.40,"y":0.349},{"p":"E6","x":10.56,"y":0.346},{"p":"E6","x":10.77,"y":0.343},{"p":"E6","x":10.93,"y":0.346},{"p":"E6","x":11.13,"y":0.342},{"p":"E6","x":11.37,"y":0.341},{"p":"E6","x":11.53,"y":0.344},{"p":"E6","x":11.67,"y":0.346},{"p":"E6","x":11.81,"y":0.341},{"p":"E6","x":11.98,"y":0.336},{"p":"E6","x":12.14,"y":0.343},{"p":"E6","x":12.28,"y":0.342},{"p":"E6","x":12.42,"y":0.329},{"p":"E6","x":12.48,"y":0.322},{"p":"E6","x":12.62,"y":0.331},{"p":"E6","x":12.78,"y":0.339},{"p":"E6","x":12.98,"y":0.347},{"p":"E6","x":13.19,"y":0.365},{"p":"E6","x":13.35,"y":0.373},{"p":"E6","x":13.49,"y":0.384},{"p":"E6","x":13.69,"y":0.381},{"p":"E6","x":13.99,"y":0.381},{"p":"E6","x":14.70,"y":0.381},{"p":"E6","x":15.50,"y":0.381},
{"p":"E7","x":37.00,"y":0.330},{"p":"E7","x":37.16,"y":0.331},{"p":"E7","x":37.32,"y":0.328},{"p":"E7","x":37.48,"y":0.325},{"p":"E7","x":37.61,"y":0.321},{"p":"E7","x":37.78,"y":0.316},{"p":"E7","x":37.91,"y":0.315},{"p":"E7","x":38.07,"y":0.319},{"p":"E7","x":38.23,"y":0.314},{"p":"E7","x":38.39,"y":0.319},{"p":"E7","x":38.59,"y":0.321},{"p":"E7","x":38.72,"y":0.325},{"p":"E7","x":38.88,"y":0.321},{"p":"E7","x":39.07,"y":0.319},{"p":"E7","x":39.32,"y":0.320},{"p":"E7","x":39.53,"y":0.319},{"p":"E7","x":39.76,"y":0.323},{"p":"E7","x":40.02,"y":0.326},{"p":"E7","x":40.21,"y":0.322},{"p":"E7","x":40.41,"y":0.324},{"p":"E7","x":40.54,"y":0.322},{"p":"E7","x":40.70,"y":0.326},{"p":"E7","x":40.89,"y":0.327},{"p":"E7","x":41.02,"y":0.325},{"p":"E7","x":41.12,"y":0.340},{"p":"E7","x":41.22,"y":0.333},{"p":"E7","x":41.38,"y":0.336},{"p":"E7","x":41.54,"y":0.353},{"p":"E7","x":41.64,"y":0.345},{"p":"E7","x":41.75,"y":0.332},{"p":"E7","x":41.92,"y":0.336},{"p":"E7","x":42.08,"y":0.327},{"p":"E7","x":42.24,"y":0.336},{"p":"E7","x":42.45,"y":0.341},{"p":"E7","x":42.61,"y":0.336},{"p":"E7","x":42.78,"y":0.325},{"p":"E7","x":42.94,"y":0.323},{"p":"E7","x":43.17,"y":0.321},{"p":"E7","x":43.30,"y":0.333},{"p":"E7","x":43.42,"y":0.339},{"p":"E7","x":43.62,"y":0.331},
{"p":"F1","x":11.743,"y":0.301},{"p":"F1","x":11.813,"y":0.301},{"p":"F1","x":11.884,"y":0.302},{"p":"F1","x":11.954,"y":0.302},{"p":"F1","x":12.007,"y":0.300},{"p":"F1","x":12.060,"y":0.300},{"p":"F1","x":12.095,"y":0.298},{"p":"F1","x":12.148,"y":0.300},{"p":"F1","x":12.218,"y":0.300},{"p":"F1","x":12.271,"y":0.301},{"p":"F1","x":12.317,"y":0.302},{"p":"F1","x":12.359,"y":0.300},{"p":"F1","x":12.412,"y":0.299},{"p":"F1","x":12.437,"y":0.298},{"p":"F1","x":12.472,"y":0.303},{"p":"F1","x":12.507,"y":0.300},{"p":"F1","x":12.553,"y":0.306},{"p":"F1","x":12.577,"y":0.320},{"p":"F1","x":12.599,"y":0.326},{"p":"F1","x":12.616,"y":0.342},{"p":"F1","x":12.641,"y":0.344},{"p":"F1","x":12.658,"y":0.345},{"p":"F1","x":12.683,"y":0.339},{"p":"F1","x":12.704,"y":0.339},{"p":"F1","x":12.729,"y":0.343},{"p":"F1","x":12.746,"y":0.347},{"p":"F1","x":12.764,"y":0.380},{"p":"F1","x":12.782,"y":0.392},{"p":"F1","x":12.796,"y":0.391},
{"p":"F2","x":26.087,"y":0.295},{"p":"F2","x":26.129,"y":0.295},{"p":"F2","x":26.185,"y":0.295},{"p":"F2","x":26.242,"y":0.294},{"p":"F2","x":26.275,"y":0.294},{"p":"F2","x":26.292,"y":0.292},{"p":"F2","x":26.320,"y":0.294},{"p":"F2","x":26.354,"y":0.296},{"p":"F2","x":26.382,"y":0.300},{"p":"F2","x":26.424,"y":0.301},{"p":"F2","x":26.466,"y":0.304},{"p":"F2","x":26.500,"y":0.306},{"p":"F2","x":26.522,"y":0.312},{"p":"F2","x":26.551,"y":0.316},{"p":"F2","x":26.579,"y":0.315},{"p":"F2","x":26.612,"y":0.311},{"p":"F2","x":26.635,"y":0.317},{"p":"F2","x":26.657,"y":0.316},{"p":"F2","x":26.685,"y":0.320},{"p":"F2","x":26.713,"y":0.324},{"p":"F2","x":26.733,"y":0.329},{"p":"F2","x":26.753,"y":0.335},{"p":"F2","x":26.775,"y":0.357},{"p":"F2","x":26.798,"y":0.362},{"p":"F2","x":26.826,"y":0.358},{"p":"F2","x":26.846,"y":0.368},{"p":"F2","x":26.865,"y":0.371},{"p":"F2","x":26.882,"y":0.383},{"p":"F2","x":26.902,"y":0.392},{"p":"F2","x":26.921,"y":0.396},
{"p":"F3","x":-5.495,"y":0.309},{"p":"F3","x":-5.299,"y":0.309},{"p":"F3","x":-5.119,"y":0.310},{"p":"F3","x":-5.015,"y":0.311},{"p":"F3","x":-4.948,"y":0.308},{"p":"F3","x":-4.861,"y":0.307},{"p":"F3","x":-4.758,"y":0.306},{"p":"F3","x":-4.680,"y":0.306},{"p":"F3","x":-4.629,"y":0.303},{"p":"F3","x":-4.552,"y":0.305},{"p":"F3","x":-4.464,"y":0.305},{"p":"F3","x":-4.397,"y":0.308},{"p":"F3","x":-4.345,"y":0.316},{"p":"F3","x":-4.320,"y":0.337},{"p":"F3","x":-4.294,"y":0.353},{"p":"F3","x":-4.242,"y":0.355},{"p":"F3","x":-4.201,"y":0.356},{"p":"F3","x":-4.165,"y":0.363},{"p":"F3","x":-4.124,"y":0.365},{"p":"F3","x":-4.088,"y":0.361},{"p":"F3","x":-4.052,"y":0.349},{"p":"F3","x":-4.021,"y":0.327},{"p":"F3","x":-3.985,"y":0.332},{"p":"F3","x":-3.959,"y":0.328},
{"p":"F4","x":520.3,"y":0.286},{"p":"F4","x":523.3,"y":0.290},{"p":"F4","x":525.8,"y":0.302},{"p":"F4","x":527.3,"y":0.315},{"p":"F4","x":529.4,"y":0.324},{"p":"F4","x":531.8,"y":0.321},{"p":"F4","x":534.8,"y":0.340},{"p":"F4","x":537.3,"y":0.339},{"p":"F4","x":540.3,"y":0.346},{"p":"F4","x":543.3,"y":0.347},{"p":"F4","x":547.0,"y":0.343},{"p":"F4","x":550.0,"y":0.341},{"p":"F4","x":553.0,"y":0.346},{"p":"F4","x":556.1,"y":0.341},{"p":"F4","x":560.6,"y":0.342},{"p":"F4","x":565.2,"y":0.342},{"p":"F4","x":569.7,"y":0.339},{"p":"F4","x":574.2,"y":0.343},{"p":"F4","x":578.8,"y":0.335},{"p":"F4","x":581.8,"y":0.340},{"p":"F4","x":586.4,"y":0.330},{"p":"F4","x":590.9,"y":0.336},{"p":"F4","x":595.5,"y":0.331},{"p":"F4","x":599.1,"y":0.330},{"p":"F4","x":603.0,"y":0.335},{"p":"F4","x":607.0,"y":0.340},{"p":"F4","x":610.6,"y":0.346},
{"p":"F5","x":423.7,"y":0.290},{"p":"F5","x":425.0,"y":0.294},{"p":"F5","x":426.2,"y":0.299},{"p":"F5","x":427.8,"y":0.296},{"p":"F5","x":429.4,"y":0.294},{"p":"F5","x":431.0,"y":0.285},{"p":"F5","x":432.1,"y":0.294},{"p":"F5","x":433.2,"y":0.312},{"p":"F5","x":434.4,"y":0.318},{"p":"F5","x":435.9,"y":0.314},{"p":"F5","x":437.3,"y":0.319},{"p":"F5","x":438.9,"y":0.335},{"p":"F5","x":440.0,"y":0.337},{"p":"F5","x":441.1,"y":0.337},{"p":"F5","x":442.1,"y":0.350},{"p":"F5","x":443.2,"y":0.357},{"p":"F5","x":444.3,"y":0.354},{"p":"F5","x":445.9,"y":0.355},{"p":"F5","x":447.5,"y":0.349},{"p":"F5","x":448.7,"y":0.344},{"p":"F5","x":450.6,"y":0.346},{"p":"F5","x":452.7,"y":0.348},{"p":"F5","x":455.1,"y":0.349},{"p":"F5","x":457.5,"y":0.349},{"p":"F5","x":459.0,"y":0.350},{"p":"F5","x":461.1,"y":0.344},{"p":"F5","x":462.7,"y":0.346},{"p":"F5","x":464.6,"y":0.352},{"p":"F5","x":466.2,"y":0.351},{"p":"F5","x":468.1,"y":0.353},{"p":"F5","x":469.7,"y":0.348},{"p":"F5","x":471.7,"y":0.349},{"p":"F5","x":474.1,"y":0.346},{"p":"F5","x":476.0,"y":0.345},{"p":"F5","x":477.6,"y":0.349},{"p":"F5","x":479.7,"y":0.345},{"p":"F5","x":482.1,"y":0.345},{"p":"F5","x":483.7,"y":0.347},{"p":"F5","x":485.2,"y":0.345},{"p":"F5","x":486.8,"y":0.350},{"p":"F5","x":488.4,"y":0.356},
{"p":"F6","x":7.37,"y":0.334},{"p":"F6","x":8.15,"y":0.334},{"p":"F6","x":9.00,"y":0.334},{"p":"F6","x":9.11,"y":0.340},{"p":"F6","x":9.26,"y":0.348},{"p":"F6","x":9.44,"y":0.351},{"p":"F6","x":9.63,"y":0.351},{"p":"F6","x":9.81,"y":0.346},{"p":"F6","x":9.94,"y":0.342},{"p":"F6","x":10.15,"y":0.345},{"p":"F6","x":10.37,"y":0.347},{"p":"F6","x":10.65,"y":0.348},{"p":"F6","x":10.93,"y":0.347},{"p":"F6","x":11.20,"y":0.344},{"p":"F6","x":11.39,"y":0.342},{"p":"F6","x":11.57,"y":0.338},{"p":"F6","x":11.76,"y":0.341},{"p":"F6","x":11.94,"y":0.335},{"p":"F6","x":12.13,"y":0.340},{"p":"F6","x":12.31,"y":0.333},{"p":"F6","x":12.50,"y":0.327},{"p":"F6","x":12.63,"y":0.330},{"p":"F6","x":12.96,"y":0.325},{"p":"F6","x":13.24,"y":0.332},{"p":"F6","x":13.43,"y":0.349},{"p":"F6","x":13.67,"y":0.357},{"p":"F6","x":14.07,"y":0.357},{"p":"F6","x":14.91,"y":0.357},
{"p":"F7","x":36.50,"y":0.337},{"p":"F7","x":36.68,"y":0.338},{"p":"F7","x":36.87,"y":0.333},{"p":"F7","x":37.11,"y":0.336},{"p":"F7","x":37.34,"y":0.330},{"p":"F7","x":37.56,"y":0.329},{"p":"F7","x":37.84,"y":0.327},{"p":"F7","x":38.11,"y":0.326},{"p":"F7","x":38.39,"y":0.325},{"p":"F7","x":38.66,"y":0.326},{"p":"F7","x":38.85,"y":0.328},{"p":"F7","x":39.12,"y":0.326},{"p":"F7","x":39.25,"y":0.340},{"p":"F7","x":39.43,"y":0.340},{"p":"F7","x":39.67,"y":0.348},{"p":"F7","x":39.85,"y":0.343},{"p":"F7","x":40.13,"y":0.344},{"p":"F7","x":40.40,"y":0.344},{"p":"F7","x":40.68,"y":0.346},{"p":"F7","x":40.95,"y":0.346},{"p":"F7","x":41.19,"y":0.344},{"p":"F7","x":41.32,"y":0.340},{"p":"F7","x":41.45,"y":0.348},{"p":"F7","x":41.59,"y":0.341},{"p":"F7","x":41.78,"y":0.348},{"p":"F7","x":41.96,"y":0.341},{"p":"F7","x":42.14,"y":0.348},{"p":"F7","x":42.29,"y":0.351},{"p":"F7","x":42.47,"y":0.337},{"p":"F7","x":42.69,"y":0.336},{"p":"F7","x":42.84,"y":0.332},{"p":"F7","x":42.97,"y":0.324},{"p":"F7","x":43.10,"y":0.328},{"p":"F7","x":43.24,"y":0.327},{"p":"F7","x":43.42,"y":0.329},{"p":"F7","x":43.61,"y":0.326},{"p":"F7","x":43.75,"y":0.311},{"p":"F7","x":43.88,"y":0.304},{"p":"F7","x":44.01,"y":0.298}
],
"R":[
{"p":"A1","x":9.54},{"p":"A1","x":10.15},{"p":"A1","x":10.72},{"p":"A1","x":11.11},{"p":"A1","x":11.36},{"p":"A1","x":11.63},{"p":"A1","x":11.98},{"p":"A1","x":12.30},{"p":"A1","x":12.57},
{"p":"A2","x":23.95},{"p":"A2","x":24.50},{"p":"A2","x":25.02},{"p":"A2","x":25.34},{"p":"A2","x":25.60},{"p":"A2","x":25.80},{"p":"A2","x":26.08},{"p":"A2","x":26.40},{"p":"A2","x":26.67},
{"p":"A3","x":-7.90},{"p":"A3","x":-7.08},{"p":"A3","x":-6.53},{"p":"A3","x":-6.05},{"p":"A3","x":-5.33},{"p":"A3","x":-4.78},{"p":"A3","x":-4.37},{"p":"A3","x":-4.14},
{"p":"A4","x":549.1},{"p":"A4","x":563.0},{"p":"A4","x":572.8},{"p":"A4","x":583.8},{"p":"A4","x":592.5},{"p":"A4","x":602.6},{"p":"A4","x":612.5},{"p":"A4","x":623.8},{"p":"A4","x":637.7},
{"p":"A5","x":439.7},{"p":"A5","x":450.0},{"p":"A5","x":457.2},{"p":"A5","x":463.4},{"p":"A5","x":471.7},{"p":"A5","x":480.0},{"p":"A5","x":487.2},{"p":"A5","x":496.9},{"p":"A5","x":505.8},
{"p":"A6","x":10.63},{"p":"A6","x":10.95},{"p":"A6","x":11.79},{"p":"A6","x":11.95},{"p":"A6","x":12.10},{"p":"A6","x":12.27},{"p":"A6","x":12.58},{"p":"A6","x":13.07},{"p":"A6","x":13.42},
{"p":"A7","x":32.13},{"p":"A7","x":33.70},{"p":"A7","x":34.51},{"p":"A7","x":35.29},{"p":"A7","x":36.10},{"p":"A7","x":37.20},{"p":"A7","x":38.22},{"p":"A7","x":39.49},{"p":"A7","x":41.23},
{"p":"B1","x":9.68},{"p":"B1","x":10.68},{"p":"B1","x":11.33},{"p":"B1","x":11.96},{"p":"B1","x":12.39},{"p":"B1","x":12.52},{"p":"B1","x":12.59},{"p":"B1","x":12.66},{"p":"B1","x":12.72},
{"p":"B2","x":24.00},{"p":"B2","x":25.05},{"p":"B2","x":25.67},{"p":"B2","x":26.18},{"p":"B2","x":26.52},{"p":"B2","x":26.61},{"p":"B2","x":26.68},{"p":"B2","x":26.75},{"p":"B2","x":26.82},
{"p":"B3","x":-7.73},{"p":"B3","x":-6.57},{"p":"B3","x":-5.90},{"p":"B3","x":-5.03},{"p":"B3","x":-4.59},{"p":"B3","x":-4.32},{"p":"B3","x":-4.21},{"p":"B3","x":-4.13},{"p":"B3","x":-4.03},
{"p":"B4","x":538.7},{"p":"B4","x":549.1},{"p":"B4","x":553.0},{"p":"B4","x":566.5},{"p":"B4","x":590.0},{"p":"B4","x":600.0},{"p":"B4","x":608.3},{"p":"B4","x":622.6},{"p":"B4","x":646.5},
{"p":"B5","x":434.7},{"p":"B5","x":445.3},{"p":"B5","x":448.8},{"p":"B5","x":455.4},{"p":"B5","x":467.6},{"p":"B5","x":478.6},{"p":"B5","x":485.2},{"p":"B5","x":496.2},{"p":"B5","x":509.4},
{"p":"B6","x":10.58},{"p":"B6","x":11.23},{"p":"B6","x":11.65},{"p":"B6","x":11.81},{"p":"B6","x":11.96},{"p":"B6","x":12.12},{"p":"B6","x":12.31},{"p":"B6","x":12.69},{"p":"B6","x":13.46},
{"p":"B7","x":31.30},{"p":"B7","x":33.94},{"p":"B7","x":35.38},{"p":"B7","x":37.12},{"p":"B7","x":38.22},{"p":"B7","x":40.10},{"p":"B7","x":41.30},{"p":"B7","x":41.71},{"p":"B7","x":42.50},
{"p":"C1","x":10.71},{"p":"C1","x":11.34},{"p":"C1","x":11.76},{"p":"C1","x":12.38},{"p":"C1","x":12.53},{"p":"C1","x":12.59},{"p":"C1","x":12.64},{"p":"C1","x":12.69},{"p":"C1","x":12.74},
{"p":"C2","x":25.03},{"p":"C2","x":25.60},{"p":"C2","x":26.03},{"p":"C2","x":26.44},{"p":"C2","x":26.60},{"p":"C2","x":26.67},{"p":"C2","x":26.73},{"p":"C2","x":26.77},{"p":"C2","x":26.82},
{"p":"C3","x":-6.67},{"p":"C3","x":-6.00},{"p":"C3","x":-5.23},{"p":"C3","x":-4.56},{"p":"C3","x":-4.30},{"p":"C3","x":-4.20},{"p":"C3","x":-4.12},{"p":"C3","x":-4.06},{"p":"C3","x":-4.00},
{"p":"C4","x":533.6},{"p":"C4","x":539.8},{"p":"C4","x":550.0},{"p":"C4","x":558.0},{"p":"C4","x":572.6},{"p":"C4","x":590.9},{"p":"C4","x":599.3},{"p":"C4","x":607.3},{"p":"C4","x":621.9},
{"p":"C5","x":429.8},{"p":"C5","x":436.5},{"p":"C5","x":445.6},{"p":"C5","x":451.5},{"p":"C5","x":458.1},{"p":"C5","x":467.7},{"p":"C5","x":476.9},{"p":"C5","x":484.6},{"p":"C5","x":496.2},
{"p":"C6","x":10.61},{"p":"C6","x":11.48},{"p":"C6","x":11.66},{"p":"C6","x":11.82},{"p":"C6","x":11.93},{"p":"C6","x":12.11},{"p":"C6","x":12.34},{"p":"C6","x":12.57},{"p":"C6","x":13.30},
{"p":"C7","x":33.85},{"p":"C7","x":35.63},{"p":"C7","x":36.84},{"p":"C7","x":38.16},{"p":"C7","x":39.43},{"p":"C7","x":41.03},{"p":"C7","x":41.72},{"p":"C7","x":42.44},{"p":"C7","x":43.05},
{"p":"D1","x":12.29},{"p":"D1","x":12.38},{"p":"D1","x":12.45},{"p":"D1","x":12.52},{"p":"D1","x":12.57},{"p":"D1","x":12.62},{"p":"D1","x":12.66},{"p":"D1","x":12.69},{"p":"D1","x":12.73},
{"p":"D2","x":26.41},{"p":"D2","x":26.49},{"p":"D2","x":26.56},{"p":"D2","x":26.63},{"p":"D2","x":26.67},{"p":"D2","x":26.72},{"p":"D2","x":26.76},{"p":"D2","x":26.81},{"p":"D2","x":26.85},
{"p":"D3","x":-4.699},{"p":"D3","x":-4.438},{"p":"D3","x":-4.275},{"p":"D3","x":-4.174},{"p":"D3","x":-4.130},{"p":"D3","x":-4.091},{"p":"D3","x":-4.047},{"p":"D3","x":-4.011},{"p":"D3","x":-3.975},
{"p":"D4","x":529.4},{"p":"D4","x":534.4},{"p":"D4","x":540.3},{"p":"D4","x":546.2},{"p":"D4","x":551.5},{"p":"D4","x":554.4},{"p":"D4","x":569.1},{"p":"D4","x":590.3},{"p":"D4","x":602.4},
{"p":"D5","x":428.7},{"p":"D5","x":435.2},{"p":"D5","x":440.1},{"p":"D5","x":444.5},{"p":"D5","x":447.2},{"p":"D5","x":451.0},{"p":"D5","x":460.3},{"p":"D5","x":475.4},{"p":"D5","x":483.9},
{"p":"D6","x":11.27},{"p":"D6","x":11.78},{"p":"D6","x":11.89},{"p":"D6","x":12.04},{"p":"D6","x":12.15},{"p":"D6","x":12.32},{"p":"D6","x":12.48},{"p":"D6","x":12.59},{"p":"D6","x":13.14},
{"p":"D7","x":37.65},{"p":"D7","x":38.59},{"p":"D7","x":40.08},{"p":"D7","x":41.27},{"p":"D7","x":41.62},{"p":"D7","x":41.87},{"p":"D7","x":42.27},{"p":"D7","x":42.79},{"p":"D7","x":43.20},
{"p":"E1","x":12.35},{"p":"E1","x":12.47},{"p":"E1","x":12.52},{"p":"E1","x":12.57},{"p":"E1","x":12.61},{"p":"E1","x":12.64},{"p":"E1","x":12.68},{"p":"E1","x":12.71},{"p":"E1","x":12.74},
{"p":"E2","x":26.50},{"p":"E2","x":26.57},{"p":"E2","x":26.62},{"p":"E2","x":26.67},{"p":"E2","x":26.71},{"p":"E2","x":26.74},{"p":"E2","x":26.78},{"p":"E2","x":26.81},{"p":"E2","x":26.85},
{"p":"E3","x":-4.610},{"p":"E3","x":-4.310},{"p":"E3","x":-4.193},{"p":"E3","x":-4.127},{"p":"E3","x":-4.087},{"p":"E3","x":-4.050},{"p":"E3","x":-4.017},{"p":"E3","x":-3.993},{"p":"E3","x":-3.953},
{"p":"E4","x":533.0},{"p":"E4","x":536.7},{"p":"E4","x":543.4},{"p":"E4","x":546.8},{"p":"E4","x":550.8},{"p":"E4","x":554.3},{"p":"E4","x":560.1},{"p":"E4","x":580.6},{"p":"E4","x":599.5},
{"p":"E5","x":430.5},{"p":"E5","x":436.1},{"p":"E5","x":441.4},{"p":"E5","x":444.9},{"p":"E5","x":447.1},{"p":"E5","x":449.7},{"p":"E5","x":454.5},{"p":"E5","x":468.1},{"p":"E5","x":482.6},
{"p":"E6","x":11.31},{"p":"E6","x":11.53},{"p":"E6","x":11.67},{"p":"E6","x":11.77},{"p":"E6","x":11.94},{"p":"E6","x":12.08},{"p":"E6","x":12.28},{"p":"E6","x":12.62},{"p":"E6","x":13.33},
{"p":"E7","x":37.69},{"p":"E7","x":39.20},{"p":"E7","x":40.73},{"p":"E7","x":41.43},{"p":"E7","x":41.70},{"p":"E7","x":41.96},{"p":"E7","x":42.24},{"p":"E7","x":42.76},{"p":"E7","x":43.21},
{"p":"F1","x":12.289},{"p":"F1","x":12.493},{"p":"F1","x":12.595},{"p":"F1","x":12.665},{"p":"F1","x":12.694},{"p":"F1","x":12.718},{"p":"F1","x":12.739},{"p":"F1","x":12.761},{"p":"F1","x":12.782},
{"p":"F2","x":26.416},{"p":"F2","x":26.601},{"p":"F2","x":26.683},{"p":"F2","x":26.719},{"p":"F2","x":26.739},{"p":"F2","x":26.803},{"p":"F2","x":26.868},{"p":"F2","x":26.907},
{"p":"F3","x":-4.799},{"p":"F3","x":-4.397},{"p":"F3","x":-4.216},{"p":"F3","x":-4.124},{"p":"F3","x":-4.072},{"p":"F3","x":-4.036},{"p":"F3","x":-4.010},{"p":"F3","x":-3.985},{"p":"F3","x":-3.969},
{"p":"F4","x":528.8},{"p":"F4","x":533.3},{"p":"F4","x":537.0},{"p":"F4","x":543.9},{"p":"F4","x":548.5},{"p":"F4","x":553.0},{"p":"F4","x":563.6},{"p":"F4","x":588.8},{"p":"F4","x":604.5},
{"p":"F5","x":427.0},{"p":"F5","x":431.3},{"p":"F5","x":435.7},{"p":"F5","x":441.6},{"p":"F5","x":444.8},{"p":"F5","x":447.6},{"p":"F5","x":454.8},{"p":"F5","x":469.0},{"p":"F5","x":483.7},
{"p":"F6","x":10.65},{"p":"F6","x":11.48},{"p":"F6","x":11.70},{"p":"F6","x":11.85},{"p":"F6","x":11.94},{"p":"F6","x":12.04},{"p":"F6","x":12.22},{"p":"F6","x":12.56},{"p":"F6","x":13.30},
{"p":"F7","x":37.29},{"p":"F7","x":38.79},{"p":"F7","x":40.55},{"p":"F7","x":41.45},{"p":"F7","x":41.78},{"p":"F7","x":42.09},{"p":"F7","x":42.60},{"p":"F7","x":43.02},{"p":"F7","x":43.39}
]
},
"hconcat":[
{"width":100,"height":2612,"view":{"stroke":null},"data":{"values":[{"t":"Partial dependence function"}]},"mark":{"type":"text","angle":270,"fontSize":90,"font":"Liberation Serif","color":"black"},"encoding":{"text":{"field":"t","type":"nominal"}}},
{"concat":[
{"title":"MAT","encoding":{"x":{"field":"x","type":"quantitative","scale":{"domain":[8.74,12.81]},"axis":{"values":[10,12],"format":"d","title":null}}},"layer":[{"data":{"name":"L"},"transform":[{"filter":"datum.p=='A1'"}],"mark":"line","encoding":{"y":{"field":"y","type":"quantitative","scale":{"domain":[0.25,0.45]},"axis":{"values":[0.25,0.3,0.35,0.4,0.45],"format":".2f","title":"(a)"}}}},{"data":{"name":"R"},"transform":[{"filter":"datum.p=='A1'"}],"mark":"rule","encoding":{"y":{"datum":0.25},"y2":{"datum":0.26}}}]},
{"title":"MWMT","encoding":{"x":{"field":"x","type":"quantitative","scale":{"domain":[23.27,26.9]},"axis":{"values":[24,26],"format":"d","title":null}}},"layer":[{"data":{"name":"L"},"transform":[{"filter":"datum.p=='A2'"}],"mark":"line","encoding":{"y":{"field":"y","type":"quantitative","scale":{"domain":[0.25,0.45]},"axis":{"values":[0.25,0.3,0.35,0.4,0.45],"labels":false,"title":null}}}},{"data":{"name":"R"},"transform":[{"filter":"datum.p=='A2'"}],"mark":"rule","encoding":{"y":{"datum":0.25},"y2":{"datum":0.26}}}]},
{"title":"MCMT","encoding":{"x":{"field":"x","type":"quantitative","scale":{"domain":[-8.87,-3.82]},"axis":{"values":[-8,-6,-4],"format":"d","title":null}}},"layer":[{"data":{"name":"L"},"transform":[{"filter":"datum.p=='A3'"}],"mark":"line","encoding":{"y":{"field":"y","type":"quantitative","scale":{"domain":[0.25,0.45]},"axis":{"values":[0.25,0.3,0.35,0.4,0.45],"labels":false,"title":null}}}},{"data":{"name":"R"},"transform":[{"filter":"datum.p=='A3'"}],"mark":"rule","encoding":{"y":{"datum":0.25},"y2":{"datum":0.26}}}]},
{"title":"MAP","encoding":{"x":{"field":"x","type":"quantitative","scale":{"domain":[530.2,655.8]},"axis":{"values":[550,600,650],"format":"d","title":null}}},"layer":[{"data":{"name":"L"},"transform":[{"filter":"datum.p=='A4'"}],"mark":"line","encoding":{"y":{"field":"y","type":"quantitative","scale":{"domain":[0.25,0.45]},"axis":{"values":[0.25,0.3,0.35,0.4,0.45],"labels":false,"title":null}}}},{"data":{"name":"R"},"transform":[{"filter":"datum.p=='A4'"}],"mark":"rule","encoding":{"y":{"datum":0.25},"y2":{"datum":0.26}}}]},
{"title":"Prec_sm","encoding":{"x":{"field":"x","type":"quantitative","scale":{"domain":[426.9,519.8]},"axis":{"values":[450,500],"format":"d","title":null}}},"layer":[{"data":{"name":"L"},"transform":[{"filter":"datum.p=='A5'"}],"mark":"line","encoding":{"y":{"field":"y","type":"quantitative","scale":{"domain":[0.25,0.45]},"axis":{"values":[0.25,0.3,0.35,0.4,0.45],"labels":false,"title":null}}}},{"data":{"name":"R"},"transform":[{"filter":"datum.p=='A5'"}],"mark":"rule","encoding":{"y":{"datum":0.25},"y2":{"datum":0.26}}}]},
{"title":"Prec_wt","encoding":{"x":{"field":"x","type":"quantitative","scale":{"domain":[7.54,17.0]},"axis":{"values":[10,15],"format":"d","title":null}}},"layer":[{"data":{"name":"L"},"transform":[{"filter":"datum.p=='A6'"}],"mark":"line","encoding":{"y":{"field":"y","type":"quantitative","scale":{"domain":[0.25,0.45]},"axis":{"values":[0.25,0.3,0.35,0.4,0.45],"labels":false,"title":null}}}},{"data":{"name":"R"},"transform":[{"filter":"datum.p=='A6'"}],"mark":"rule","encoding":{"y":{"datum":0.25},"y2":{"datum":0.26}}}]},
{"title":"AHM","encoding":{"x":{"field":"x","type":"quantitative","scale":{"domain":[29.71,42.75]},"axis":{"values":[30,35,40],"format":"d","title":null}}},"layer":[{"data":{"name":"L"},"transform":[{"filter":"datum.p=='A7'"}],"mark":"line","encoding":{"y":{"field":"y","type":"quantitative","scale":{"domain":[0.25,0.45]},"axis":{"values":[0.25,0.3,0.35,0.4,0.45],"labels":false,"title":null}}}},{"data":{"name":"R"},"transform":[{"filter":"datum.p=='A7'"}],"mark":"rule","encoding":{"y":{"datum":0.25},"y2":{"datum":0.26}}}]},
{"encoding":{"x":{"field":"x","type":"quantitative","scale":{"domain":[8.54,12.97]},"axis":{"values":[10,12],"format":"d","title":null}}},"layer":[{"data":{"name":"L"},"transform":[{"filter":"datum.p=='B1'"}],"mark":"line","encoding":{"y":{"field":"y","type":"quantitative","scale":{"domain":[0.25,0.45]},"axis":{"values":[0.25,0.3,0.35,0.4,0.45],"format":".2f","title":"(b)"}}}},{"data":{"name":"R"},"transform":[{"filter":"datum.p=='B1'"}],"mark":"rule","encoding":{"y":{"datum":0.25},"y2":{"datum":0.26}}}]},
{"encoding":{"x":{"field":"x","type":"quantitative","scale":{"domain":[23.03,27.05]},"axis":{"values":[24,26],"format":"d","title":null}}},"layer":[{"data":{"name":"L"},"transform":[{"filter":"datum.p=='B2'"}],"mark":"line","encoding":{"y":{"field":"y","type":"quantitative","scale":{"domain":[0.25,0.45]},"axis":{"values":[0.25,0.3,0.35,0.4,0.45],"labels":false,"title":null}}}},{"data":{"name":"R"},"transform":[{"filter":"datum.p=='B2'"}],"mark":"rule","encoding":{"y":{"datum":0.25},"y2":{"datum":0.26}}}]},
{"encoding":{"x":{"field":"x","type":"quantitative","scale":{"domain":[-9.03,-3.76]},"axis":{"values":[-8,-6,-4],"format":"d","title":null}}},"layer":[{"data":{"name":"L"},"transform":[{"filter":"datum.p=='B3'"}],"mark":"line","encoding":{"y":{"field":"y","type":"quantitative","scale":{"domain":[0.25,0.45]},"axis":{"values":[0.25,0.3,0.35,0.4,0.45],"labels":false,"title":null}}}},{"data":{"name":"R"},"transform":[{"filter":"datum.p=='B3'"}],"mark":"rule","encoding":{"y":{"datum":0.25},"y2":{"datum":0.26}}}]},
{"encoding":{"x":{"field":"x","type":"quantitative","scale":{"domain":[524.8,669.6]},"axis":{"values":[550,600,650],"format":"d","title":null}}},"layer":[{"data":{"name":"L"},"transform":[{"filter":"datum.p=='B4'"}],"mark":"line","encoding":{"y":{"field":"y","type":"quantitative","scale":{"domain":[0.25,0.45]},"axis":{"values":[0.25,0.3,0.35,0.4,0.45],"labels":false,"title":null}}}},{"data":{"name":"R"},"transform":[{"filter":"datum.p=='B4'"}],"mark":"rule","encoding":{"y":{"datum":0.25},"y2":{"datum":0.26}}}]},
{"encoding":{"x":{"field":"x","type":"quantitative","scale":{"domain":[422.5,528.2]},"axis":{"values":[450,500],"format":"d","title":null}}},"layer":[{"data":{"name":"L"},"transform":[{"filter":"datum.p=='B5'"}],"mark":"line","encoding":{"y":{"field":"y","type":"quantitative","scale":{"domain":[0.25,0.45]},"axis":{"values":[0.25,0.3,0.35,0.4,0.45],"labels":false,"title":null}}}},{"data":{"name":"R"},"transform":[{"filter":"datum.p=='B5'"}],"mark":"rule","encoding":{"y":{"datum":0.25},"y2":{"datum":0.26}}}]},
{"encoding":{"x":{"field":"x","type":"quantitative","scale":{"domain":[6.54,23.85]},"axis":{"values":[10,20],"format":"d","title":null}}},"layer":[{"data":{"name":"L"},"transform":[{"filter":"datum.p=='B6'"}],"mark":"line","encoding":{"y":{"field":"y","type":"quantitative","scale":{"domain":[0.25,0.45]},"axis":{"values":[0.25,0.3,0.35,0.4,0.45],"labels":false,"title":null}}}},{"data":{"name":"R"},"transform":[{"filter":"datum.p=='B6'"}],"mark":"rule","encoding":{"y":{"datum":0.25},"y2":{"datum":0.26}}}]},
{"encoding":{"x":{"field":"x","type":"quantitative","scale":{"domain":[28.29,43.7]},"axis":{"values":[30,40],"format":"d","title":null}}},"layer":[{"data":{"name":"L"},"transform":[{"filter":"datum.p=='B7'"}],"mark":"line","encoding":{"y":{"field":"y","type":"quantitative","scale":{"domain":[0.25,0.45]},"axis":{"values":[0.25,0.3,0.35,0.4,0.45],"labels":false,"title":null}}}},{"data":{"name":"R"},"transform":[{"filter":"datum.p=='B7'"}],"mark":"rule","encoding":{"y":{"datum":0.25},"y2":{"datum":0.26}}}]},
{"encoding":{"x":{"field":"x","type":"quantitative","scale":{"domain":[9.79,12.91]},"axis":{"values":[10,12],"format":"d","title":null}}},"layer":[{"data":{"name":"L"},"transform":[{"filter":"datum.p=='C1'"}],"mark":"line","encoding":{"y":{"field":"y","type":"quantitative","scale":{"domain":[0.25,0.45]},"axis":{"values":[0.25,0.3,0.35,0.4,0.45],"format":".2f","title":"(c)"}}}},{"data":{"name":"R"},"transform":[{"filter":"datum.p=='C1'"}],"mark":"rule","encoding":{"y":{"datum":0.25},"y2":{"datum":0.26}}}]},
{"encoding":{"x":{"field":"x","type":"quantitative","scale":{"domain":[24.1,27.04]},"axis":{"values":[25,26,27],"format":"d","title":null}}},"layer":[{"data":{"name":"L"},"transform":[{"filter":"datum.p=='C2'"}],"mark":"line","encoding":{"y":{"field":"y","type":"quantitative","scale":{"domain":[0.25,0.45]},"axis":{"values":[0.25,0.3,0.35,0.4,0.45],"labels":false,"title":null}}}},{"data":{"name":"R"},"transform":[{"filter":"datum.p=='C2'"}],"mark":"rule","encoding":{"y":{"datum":0.25},"y2":{"datum":0.26}}}]},
{"encoding":{"x":{"field":"x","type":"quantitative","scale":{"domain":[-7.74,-3.76]},"axis":{"values":[-6,-4],"format":"d","title":null}}},"layer":[{"data":{"name":"L"},"transform":[{"filter":"datum.p=='C3'"}],"mark":"line","encoding":{"y":{"field":"y","type":"quantitative","scale":{"domain":[0.25,0.45]},"axis":{"values":[0.25,0.3,0.35,0.4,0.45],"labels":false,"title":null}}}},{"data":{"name":"R"},"transform":[{"filter":"datum.p=='C3'"}],"mark":"rule","encoding":{"y":{"datum":0.25},"y2":{"datum":0.26}}}]},
{"encoding":{"x":{"field":"x","type":"quantitative","scale":{"domain":[519.7,641.2]},"axis":{"values":[550,600],"format":"d","title":null}}},"layer":[{"data":{"name":"L"},"transform":[{"filter":"datum.p=='C4'"}],"mark":"line","encoding":{"y":{"field":"y","type":"quantitative","scale":{"domain":[0.25,0.45]},"axis":{"values":[0.25,0.3,0.35,0.4,0.45],"labels":false,"title":null}}}},{"data":{"name":"R"},"transform":[{"filter":"datum.p=='C4'"}],"mark":"rule","encoding":{"y":{"datum":0.25},"y2":{"datum":0.26}}}]},
{"encoding":{"x":{"field":"x","type":"quantitative","scale":{"domain":[420.8,507.3]},"axis":{"values":[450,500],"format":"d","title":null}}},"layer":[{"data":{"name":"L"},"transform":[{"filter":"datum.p=='C5'"}],"mark":"line","encoding":{"y":{"field":"y","type":"quantitative","scale":{"domain":[0.25,0.45]},"axis":{"values":[0.25,0.3,0.35,0.4,0.45],"labels":false,"title":null}}}},{"data":{"name":"R"},"transform":[{"filter":"datum.p=='C5'"}],"mark":"rule","encoding":{"y":{"datum":0.25},"y2":{"datum":0.26}}}]},
{"encoding":{"x":{"field":"x","type":"quantitative","scale":{"domain":[6.82,17.05]},"axis":{"values":[10,15],"format":"d","title":null}}},"layer":[{"data":{"name":"L"},"transform":[{"filter":"datum.p=='C6'"}],"mark":"line","encoding":{"y":{"field":"y","type":"quantitative","scale":{"domain":[0.25,0.45]},"axis":{"values":[0.25,0.3,0.35,0.4,0.45],"labels":false,"title":null}}}},{"data":{"name":"R"},"transform":[{"filter":"datum.p=='C6'"}],"mark":"rule","encoding":{"y":{"datum":0.25},"y2":{"datum":0.26}}}]},
{"encoding":{"x":{"field":"x","type":"quantitative","scale":{"domain":[31.03,43.97]},"axis":{"values":[35,40],"format":"d","title":null}}},"layer":[{"data":{"name":"L"},"transform":[{"filter":"datum.p=='C7'"}],"mark":"line","encoding":{"y":{"field":"y","type":"quantitative","scale":{"domain":[0.25,0.45]},"axis":{"values":[0.25,0.3,0.35,0.4,0.45],"labels":false,"title":null}}}},{"data":{"name":"R"},"transform":[{"filter":"datum.p=='C7'"}],"mark":"rule","encoding":{"y":{"datum":0.25},"y2":{"datum":0.26}}}]},
{"encoding":{"x":{"field":"x","type":"quantitative","scale":{"domain":[7.5,13.21]},"axis":{"values":[8,10,12],"format":"d","title":null}}},"layer":[{"data":{"name":"L"},"transform":[{"filter":"datum.p=='D1'"}],"mark":"line","encoding":{"y":{"field":"y","type":"quantitative","scale":{"domain":[0.25,0.45]},"axis":{"values":[0.25,0.3,0.35,0.4,0.45],"format":".2f","title":"(d)"}}}},{"data":{"name":"R"},"transform":[{"filter":"datum.p=='D1'"}],"mark":"rule","encoding":{"y":{"datum":0.25},"y2":{"datum":0.26}}}]},
{"encoding":{"x":{"field":"x","type":"quantitative","scale":{"domain":[22.21,27.28]},"axis":{"values":[24,26],"format":"d","title":null}}},"layer":[{"data":{"name":"L"},"transform":[{"filter":"datum.p=='D2'"}],"mark":"line","encoding":{"y":{"field":"y","type":"quantitative","scale":{"domain":[0.25,0.45]},"axis":{"values":[0.25,0.3,0.35,0.4,0.45],"labels":false,"title":null}}}},{"data":{"name":"R"},"transform":[{"filter":"datum.p=='D2'"}],"mark":"rule","encoding":{"y":{"datum":0.25},"y2":{"datum":0.26}}}]},
{"encoding":{"x":{"field":"x","type":"quantitative","scale":{"domain":[-5.105,-3.9]},"axis":{"values":[-5,-4.5,-4],"format":".1f","title":null}}},"layer":[{"data":{"name":"L"},"transform":[{"filter":"datum.p=='D3'"}],"mark":"line","encoding":{"y":{"field":"y","type":"quantitative","scale":{"domain":[0.25,0.45]},"axis":{"values":[0.25,0.3,0.35,0.4,0.45],"labels":false,"title":null}}}},{"data":{"name":"R"},"transform":[{"filter":"datum.p=='D3'"}],"mark":"rule","encoding":{"y":{"datum":0.25},"y2":{"datum":0.26}}}]},
{"encoding":{"x":{"field":"x","type":"quantitative","scale":{"domain":[516.2,614.1]},"axis":{"values":[550,600],"format":"d","title":null}}},"layer":[{"data":{"name":"L"},"transform":[{"filter":"datum.p=='D4'"}],"mark":"line","encoding":{"y":{"field":"y","type":"quantitative","scale":{"domain":[0.25,0.45]},"axis":{"values":[0.25,0.3,0.35,0.4,0.45],"labels":false,"title":null}}}},{"data":{"name":"R"},"transform":[{"filter":"datum.p=='D4'"}],"mark":"rule","encoding":{"y":{"datum":0.25},"y2":{"datum":0.26}}}]},
{"encoding":{"x":{"field":"x","type":"quantitative","scale":{"domain":[418.9,492.2]},"axis":{"values":[425,450,475],"format":"d","title":null}}},"layer":[{"data":{"name":"L"},"transform":[{"filter":"datum.p=='D5'"}],"mark":"line","encoding":{"y":{"field":"y","type":"quantitative","scale":{"domain":[0.25,0.45]},"axis":{"values":[0.25,0.3,0.35,0.4,0.45],"labels":false,"title":null}}}},{"data":{"name":"R"},"transform":[{"filter":"datum.p=='D5'"}],"mark":"rule","encoding":{"y":{"datum":0.25},"y2":{"datum":0.26}}}]},
{"encoding":{"x":{"field":"x","type":"quantitative","scale":{"domain":[6.78,16.64]},"axis":{"values":[10,15],"format":"d","title":null}}},"layer":[{"data":{"name":"L"},"transform":[{"filter":"datum.p=='D6'"}],"mark":"line","encoding":{"y":{"field":"y","type":"quantitative","scale":{"domain":[0.25,0.45]},"axis":{"values":[0.25,0.3,0.35,0.4,0.45],"labels":false,"title":null}}}},{"data":{"name":"R"},"transform":[{"filter":"datum.p=='D6'"}],"mark":"rule","encoding":{"y":{"datum":0.25},"y2":{"datum":0.26}}}]},
{"encoding":{"x":{"field":"x","type":"quantitative","scale":{"domain":[36.61,43.91]},"axis":{"values":[37.5,40,42.5],"format":".1f","title":null}}},"layer":[{"data":{"name":"L"},"transform":[{"filter":"datum.p=='D7'"}],"mark":"line","encoding":{"y":{"field":"y","type":"quantitative","scale":{"domain":[0.25,0.45]},"axis":{"values":[0.25,0.3,0.35,0.4,0.45],"labels":false,"title":null}}}},{"data":{"name":"R"},"transform":[{"filter":"datum.p=='D7'"}],"mark":"rule","encoding":{"y":{"datum":0.25},"y2":{"datum":0.26}}}]},
{"encoding":{"x":{"field":"x","type":"quantitative","scale":{"domain":[7.5,13.21]},"axis":{"values":[8,10,12],"format":"d","title":null}}},"layer":[{"data":{"name":"L"},"transform":[{"filter":"datum.p=='E1'"}],"mark":"line","encoding":{"y":{"field":"y","type":"quantitative","scale":{"domain":[0.25,0.45]},"axis":{"values":[0.25,0.3,0.35,0.4,0.45],"format":".2f","title":"(e)"}}}},{"data":{"name":"R"},"transform":[{"filter":"datum.p=='E1'"}],"mark":"rule","encoding":{"y":{"datum":0.25},"y2":{"datum":0.26}}}]},
{"encoding":{"x":{"field":"x","type":"quantitative","scale":{"domain":[21.42,27.29]},"axis":{"values":[22,24,26],"format":"d","title":null}}},"layer":[{"data":{"name":"L"},"transform":[{"filter":"datum.p=='E2'"}],"mark":"line","encoding":{"y":{"field":"y","type":"quantitative","scale":{"domain":[0.25,0.45]},"axis":{"values":[0.25,0.3,0.35,0.4,0.45],"labels":false,"title":null}}}},{"data":{"name":"R"},"transform":[{"filter":"datum.p=='E2'"}],"mark":"rule","encoding":{"y":{"datum":0.25},"y2":{"datum":0.26}}}]},
{"encoding":{"x":{"field":"x","type":"quantitative","scale":{"domain":[-4.983,-3.877]},"axis":{"values":[-4.5,-4],"format":".1f","title":null}}},"layer":[{"data":{"name":"L"},"transform":[{"filter":"datum.p=='E3'"}],"mark":"line","encoding":{"y":{"field":"y","type":"quantitative","scale":{"domain":[0.25,0.45]},"axis":{"values":[0.25,0.3,0.35,0.4,0.45],"labels":false,"title":null}}}},{"data":{"name":"R"},"transform":[{"filter":"datum.p=='E3'"}],"mark":"rule","encoding":{"y":{"datum":0.25},"y2":{"datum":0.26}}}]},
{"encoding":{"x":{"field":"x","type":"quantitative","scale":{"domain":[522.9,611.4]},"axis":{"values":[550,600],"format":"d","title":null}}},"layer":[{"data":{"name":"L"},"transform":[{"filter":"datum.p=='E4'"}],"mark":"line","encoding":{"y":{"field":"y","type":"quantitative","scale":{"domain":[0.25,0.45]},"axis":{"values":[0.25,0.3,0.35,0.4,0.45],"labels":false,"title":null}}}},{"data":{"name":"R"},"transform":[{"filter":"datum.p=='E4'"}],"mark":"rule","encoding":{"y":{"datum":0.25},"y2":{"datum":0.26}}}]},
{"encoding":{"x":{"field":"x","type":"quantitative","scale":{"domain":[422.9,490.9]},"axis":{"values":[425,450,475],"format":"d","title":null}}},"layer":[{"data":{"name":"L"},"transform":[{"filter":"datum.p=='E5'"}],"mark":"line","encoding":{"y":{"field":"y","type":"quantitative","scale":{"domain":[0.25,0.45]},"axis":{"values":[0.25,0.3,0.35,0.4,0.45],"labels":false,"title":null}}}},{"data":{"name":"R"},"transform":[{"filter":"datum.p=='E5'"}],"mark":"rule","encoding":{"y":{"datum":0.25},"y2":{"datum":0.26}}}]},
{"encoding":{"x":{"field":"x","type":"quantitative","scale":{"domain":[6.83,15.91]},"axis":{"values":[10,15],"format":"d","title":null}}},"layer":[{"data":{"name":"L"},"transform":[{"filter":"datum.p=='E6'"}],"mark":"line","encoding":{"y":{"field":"y","type":"quantitative","scale":{"domain":[0.25,0.45]},"axis":{"values":[0.25,0.3,0.35,0.4,0.45],"labels":false,"title":null}}}},{"data":{"name":"R"},"transform":[{"filter":"datum.p=='E6'"}],"mark":"rule","encoding":{"y":{"datum":0.25},"y2":{"datum":0.26}}}]},
{"encoding":{"x":{"field":"x","type":"quantitative","scale":{"domain":[36.64,43.94]},"axis":{"values":[37.5,40,42.5],"format":".1f","title":null}}},"layer":[{"data":{"name":"L"},"transform":[{"filter":"datum.p=='E7'"}],"mark":"line","encoding":{"y":{"field":"y","type":"quantitative","scale":{"domain":[0.25,0.45]},"axis":{"values":[0.25,0.3,0.35,0.4,0.45],"labels":false,"title":null}}}},{"data":{"name":"R"},"transform":[{"filter":"datum.p=='E7'"}],"mark":"rule","encoding":{"y":{"datum":0.25},"y2":{"datum":0.26}}}]},
{"encoding":{"x":{"field":"x","type":"quantitative","scale":{"domain":[11.683,12.845]},"axis":{"values":[12,12.5],"format":".1f","title":"°C"}}},"layer":[{"data":{"name":"L"},"transform":[{"filter":"datum.p=='F1'"}],"mark":"line","encoding":{"y":{"field":"y","type":"quantitative","scale":{"domain":[0.25,0.45]},"axis":{"values":[0.25,0.3,0.35,0.4,0.45],"format":".2f","title":"(f)"}}}},{"data":{"name":"R"},"transform":[{"filter":"datum.p=='F1'"}],"mark":"rule","encoding":{"y":{"datum":0.25},"y2":{"datum":0.26}}}]},
{"encoding":{"x":{"field":"x","type":"quantitative","scale":{"domain":[26.034,26.966]},"axis":{"values":[26.25,26.5,26.75],"format":".2f","title":"°C"}}},"layer":[{"data":{"name":"L"},"transform":[{"filter":"datum.p=='F2'"}],"mark":"line","encoding":{"y":{"field":"y","type":"quantitative","scale":{"domain":[0.25,0.45]},"axis":{"values":[0.25,0.3,0.35,0.4,0.45],"labels":false,"title":null}}}},{"data":{"name":"R"},"transform":[{"filter":"datum.p=='F2'"}],"mark":"rule","encoding":{"y":{"datum":0.25},"y2":{"datum":0.26}}}]},
{"encoding":{"x":{"field":"x","type":"quantitative","scale":{"domain":[-5.593,-3.881]},"axis":{"values":[-5,-4],"format":"d","title":"°C"}}},"layer":[{"data":{"name":"L"},"transform":[{"filter":"datum.p=='F3'"}],"mark":"line","encoding":{"y":{"field":"y","type":"quantitative","scale":{"domain":[0.25,0.45]},"axis":{"values":[0.25,0.3,0.35,0.4,0.45],"labels":false,"title":null}}}},{"data":{"name":"R"},"transform":[{"filter":"datum.p=='F3'"}],"mark":"rule","encoding":{"y":{"datum":0.25},"y2":{"datum":0.26}}}]},
{"encoding":{"x":{"field":"x","type":"quantitative","scale":{"domain":[513.6,614.5]},"axis":{"values":[550,600],"format":"d","title":"mm"}}},"layer":[{"data":{"name":"L"},"transform":[{"filter":"datum.p=='F4'"}],"mark":"line","encoding":{"y":{"field":"y","type":"quantitative","scale":{"domain":[0.25,0.45]},"axis":{"values":[0.25,0.3,0.35,0.4,0.45],"labels":false,"title":null}}}},{"data":{"name":"R"},"transform":[{"filter":"datum.p=='F4'"}],"mark":"rule","encoding":{"y":{"datum":0.25},"y2":{"datum":0.26}}}]},
{"encoding":{"x":{"field":"x","type":"quantitative","scale":{"domain":[419.9,491.3]},"axis":{"values":[425,450,475],"format":"d","title":"mm"}}},"layer":[{"data":{"name":"L"},"transform":[{"filter":"datum.p=='F5'"}],"mark":"line","encoding":{"y":{"field":"y","type":"quantitative","scale":{"domain":[0.25,0.45]},"axis":{"values":[0.25,0.3,0.35,0.4,0.45],"labels":false,"title":null}}}},{"data":{"name":"R"},"transform":[{"filter":"datum.p=='F5'"}],"mark":"rule","encoding":{"y":{"datum":0.25},"y2":{"datum":0.26}}}]},
{"encoding":{"x":{"field":"x","type":"quantitative","scale":{"domain":[6.94,15.28]},"axis":{"values":[10,15],"format":"d","title":"mm"}}},"layer":[{"data":{"name":"L"},"transform":[{"filter":"datum.p=='F6'"}],"mark":"line","encoding":{"y":{"field":"y","type":"quantitative","scale":{"domain":[0.25,0.45]},"axis":{"values":[0.25,0.3,0.35,0.4,0.45],"labels":false,"title":null}}}},{"data":{"name":"R"},"transform":[{"filter":"datum.p=='F6'"}],"mark":"rule","encoding":{"y":{"datum":0.25},"y2":{"datum":0.26}}}]},
{"encoding":{"x":{"field":"x","type":"quantitative","scale":{"domain":[36.1,44.34]},"axis":{"values":[37.5,40,42.5],"format":".1f","title":"(MAT+10)/(MAP/1000)"}}},"layer":[{"data":{"name":"L"},"transform":[{"filter":"datum.p=='F7'"}],"mark":"line","encoding":{"y":{"field":"y","type":"quantitative","scale":{"domain":[0.25,0.45]},"axis":{"values":[0.25,0.3,0.35,0.4,0.45],"labels":false,"title":null}}}},{"data":{"name":"R"},"transform":[{"filter":"datum.p=='F7'"}],"mark":"rule","encoding":{"y":{"datum":0.25},"y2":{"datum":0.26}}}]}
],"columns":7,"spacing":{"row":83,"column":52},"bounds":"flush"}
],
"spacing":243,
"bounds":"flush"
}
